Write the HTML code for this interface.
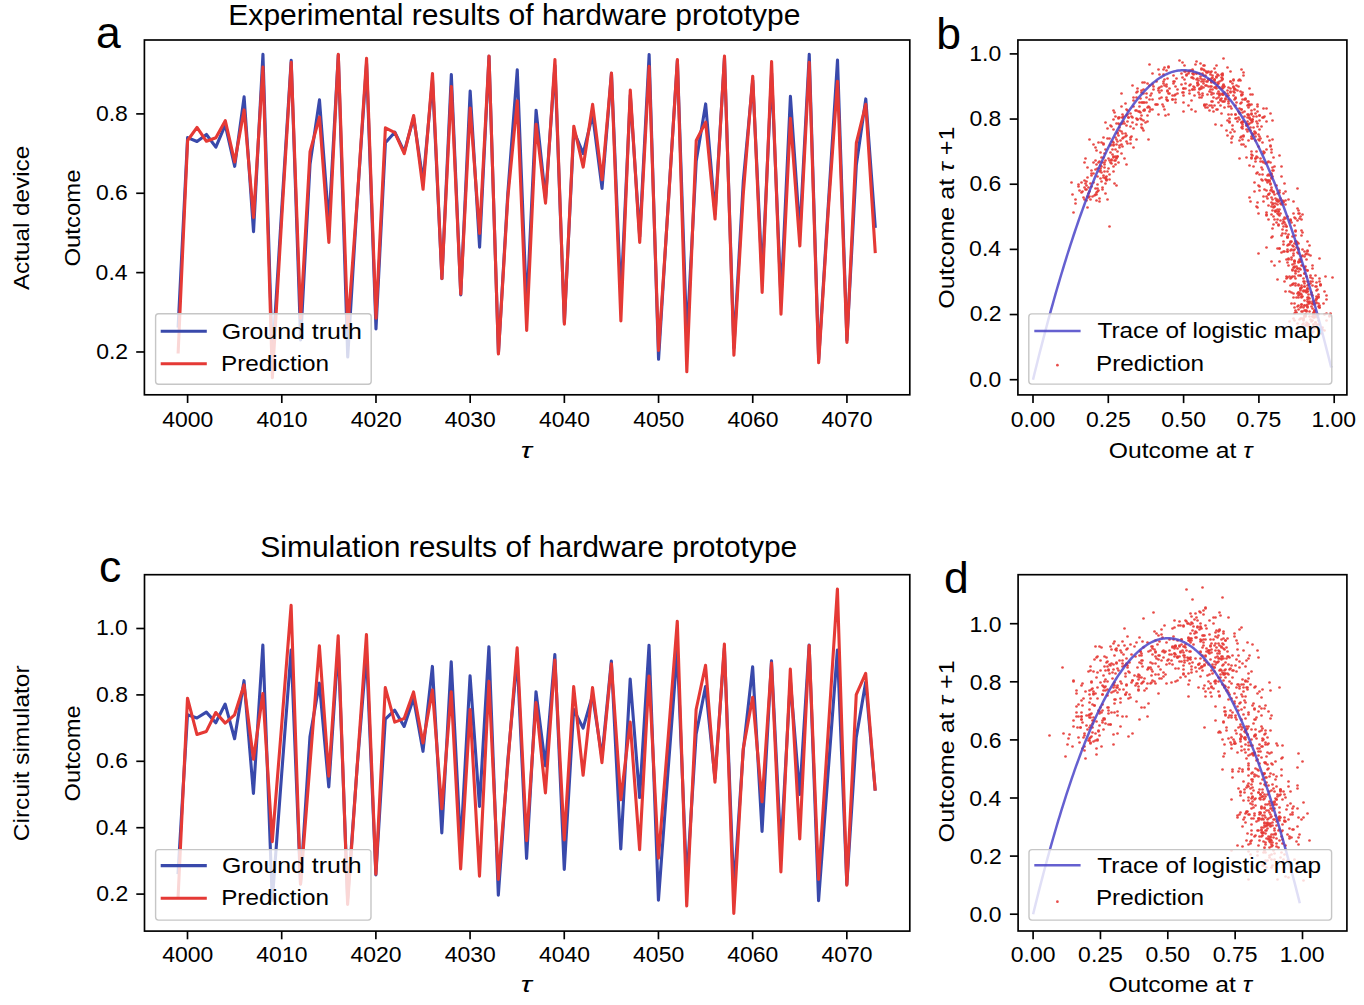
<!DOCTYPE html>
<html><head><meta charset="utf-8"><style>
html,body{margin:0;padding:0;background:#fff;}
body{width:1364px;height:1005px;overflow:hidden;font-family:"Liberation Sans", sans-serif;}
svg{display:block;}
</style></head><body>
<svg width="1364" height="1005" viewBox="0 0 1364 1005" font-family='"Liberation Sans", sans-serif'>
<rect width="1364" height="1005" fill="#fff"/>
<defs><filter id="soft" x="-5%" y="-5%" width="110%" height="110%"><feGaussianBlur stdDeviation="0.4"/></filter></defs>
<clipPath id="ca"><rect x="144.4" y="40.0" width="765.4" height="354.8"/></clipPath>
<clipPath id="cb"><rect x="1017.9" y="40.0" width="329.0000000000001" height="354.9"/></clipPath>
<clipPath id="cc"><rect x="144.5" y="574.7" width="765.3" height="356.4"/></clipPath>
<clipPath id="cd"><rect x="1018.1" y="574.7" width="328.80000000000007" height="356.29999999999995"/></clipPath>
<g clip-path="url(#ca)">
<polyline points="178.18,326.15 187.60,137.58 197.02,141.47 206.44,134.51 215.86,147.17 225.28,124.83 234.69,166.30 244.11,96.91 253.53,231.60 262.95,54.40 272.37,359.66 281.79,208.16 291.21,60.26 300.63,339.93 310.05,164.01 319.47,99.88 328.88,223.93 338.30,55.16 347.72,357.06 357.14,201.92 366.56,63.59 375.98,329.02 385.40,142.79 394.82,132.20 404.24,151.56 413.66,117.80 423.08,181.35 432.49,79.87 441.91,278.75 451.33,74.48 460.75,294.84 470.17,91.08 479.59,247.11 489.01,56.30 498.43,353.17 507.85,192.82 517.26,69.79 526.68,309.28 536.10,110.19 545.52,198.68 554.94,65.62 564.36,322.48 573.78,131.15 583.20,153.60 592.62,114.66 602.04,188.35 611.46,73.42 620.87,298.07 630.29,95.00 639.71,236.60 649.13,54.51 658.55,359.28 667.97,207.24 677.39,60.71 686.81,338.46 696.23,161.02 705.65,103.92 715.06,213.79 724.48,57.89 733.90,347.83 743.32,180.78 752.74,80.44 762.16,277.11 771.58,73.06 781.00,299.17 790.42,96.39 799.84,232.94 809.25,54.37 818.67,359.75 828.09,208.39 837.51,60.15 846.93,340.29 856.35,164.74 865.77,98.92 875.19,226.39" fill="none" stroke="#3949AB" stroke-width="3.1" stroke-linejoin="round" stroke-linecap="square"/>
<polyline points="178.18,351.98 187.60,140.49 197.02,127.39 206.44,141.28 215.86,137.71 225.28,120.65 234.69,161.91 244.11,109.93 253.53,217.46 262.95,67.08 272.37,377.77 281.79,217.07 291.21,62.32 300.63,318.25 310.05,151.60 319.47,117.07 328.88,242.46 338.30,54.38 347.72,328.17 357.14,201.20 366.56,58.35 375.98,318.25 385.40,127.79 394.82,132.55 404.24,153.58 413.66,115.49 423.08,189.29 432.49,73.43 441.91,278.57 451.33,86.52 460.75,294.05 470.17,107.95 479.59,233.34 489.01,55.97 498.43,353.96 507.85,197.23 517.26,100.81 526.68,330.55 536.10,124.22 545.52,203.18 554.94,59.54 564.36,324.20 573.78,126.20 583.20,167.07 592.62,104.38 602.04,179.77 611.46,73.03 620.87,321.03 630.29,90.09 639.71,242.46 649.13,66.28 658.55,350.39 667.97,209.13 677.39,59.54 686.81,371.82 696.23,140.49 705.65,122.23 715.06,219.05 724.48,55.97 733.90,355.15 743.32,193.26 752.74,76.20 762.16,292.46 771.58,61.52 781.00,314.28 790.42,118.26 799.84,246.03 809.25,62.32 818.67,362.69 828.09,213.10 837.51,81.36 846.93,342.46 856.35,142.87 865.77,104.38 875.19,251.59" fill="none" stroke="#E53935" stroke-width="3.1" stroke-linejoin="round" stroke-linecap="square"/>
</g>
<g clip-path="url(#cc)">
<polyline points="178.08,872.49 187.50,714.71 196.92,717.97 206.34,712.14 215.76,722.74 225.18,704.05 234.59,738.74 244.01,680.68 253.43,793.38 262.85,645.11 272.27,900.52 281.69,773.76 291.11,650.02 300.53,884.02 309.95,736.83 319.37,683.17 328.78,786.96 338.20,645.75 347.62,898.35 357.04,768.55 366.46,652.81 375.88,874.89 385.30,719.08 394.72,710.21 404.14,726.41 413.56,698.16 422.98,751.33 432.39,666.43 441.81,832.83 451.23,661.92 460.65,846.29 470.07,675.80 479.49,806.36 488.91,646.71 498.33,895.10 507.75,760.93 517.16,658.00 526.58,858.37 536.00,691.80 545.42,765.83 554.84,654.51 564.26,869.41 573.68,709.34 583.10,728.12 592.52,695.54 601.94,757.19 611.36,661.03 620.77,848.99 630.19,679.09 639.61,797.56 649.03,645.21 658.45,900.21 667.87,772.99 677.29,650.39 686.71,882.79 696.13,734.32 705.55,686.55 714.96,778.48 724.38,648.04 733.80,890.62 743.22,750.86 752.64,666.90 762.06,831.45 771.48,660.73 780.90,849.92 790.32,680.25 799.74,794.50 809.15,645.09 818.57,900.60 827.99,773.96 837.41,649.93 846.83,884.32 856.25,737.44 865.67,682.37 875.09,789.02" fill="none" stroke="#3949AB" stroke-width="3.1" stroke-linejoin="round" stroke-linecap="square"/>
<polyline points="178.08,897.42 187.50,698.22 196.92,734.41 206.34,731.42 215.76,712.50 225.18,723.12 234.59,714.82 244.01,684.94 253.43,759.31 262.85,693.57 272.27,841.64 281.69,724.78 291.11,605.26 300.53,884.14 309.95,764.62 319.37,645.76 328.78,776.24 338.20,635.80 347.62,904.39 357.04,767.94 366.46,634.48 375.88,874.18 385.30,687.60 394.72,722.12 404.14,718.47 413.56,691.91 422.98,743.04 432.39,689.92 441.81,808.78 451.23,691.91 460.65,868.87 470.07,709.51 479.49,876.17 488.91,681.29 498.33,879.49 507.75,764.62 517.16,647.76 526.58,840.65 536.00,702.54 545.42,792.84 554.84,660.04 564.26,839.98 573.68,686.60 583.10,775.24 592.52,687.60 601.94,762.63 611.36,663.69 620.77,799.81 630.19,722.12 639.61,849.61 649.03,675.98 658.45,858.24 667.87,741.38 677.29,621.20 686.71,906.05 696.13,709.51 705.55,665.35 714.96,782.22 724.38,644.10 733.80,913.36 743.22,748.68 752.64,697.22 762.06,801.80 771.48,663.03 780.90,871.86 790.32,669.00 799.74,838.99 809.15,645.43 818.57,879.49 827.99,734.74 837.41,588.99 846.83,885.14 856.25,694.57 865.67,673.32 875.09,789.19" fill="none" stroke="#E53935" stroke-width="3.1" stroke-linejoin="round" stroke-linecap="square"/>
</g>
<g clip-path="url(#cb)"><g fill="#E53935" fill-opacity="0.9" filter="url(#soft)">
<circle cx="1166.5" cy="84.5" r="1.35"/>
<circle cx="1299.5" cy="319.5" r="1.35"/>
<circle cx="1092.5" cy="196.5" r="1.35"/>
<circle cx="1223.5" cy="85.5" r="1.35"/>
<circle cx="1310.5" cy="275.5" r="1.35"/>
<circle cx="1140.5" cy="112.5" r="1.35"/>
<circle cx="1283.5" cy="244.5" r="1.35"/>
<circle cx="1168.5" cy="93.5" r="1.35"/>
<circle cx="1318.5" cy="320.5" r="1.35"/>
<circle cx="1106.5" cy="179.5" r="1.35"/>
<circle cx="1217.5" cy="74.5" r="1.35"/>
<circle cx="1292.5" cy="284.5" r="1.35"/>
<circle cx="1116.5" cy="123.5" r="1.35"/>
<circle cx="1288.5" cy="199.5" r="1.35"/>
<circle cx="1219.5" cy="87.5" r="1.35"/>
<circle cx="1285.5" cy="291.5" r="1.35"/>
<circle cx="1133.5" cy="106.5" r="1.35"/>
<circle cx="1273.5" cy="216.5" r="1.35"/>
<circle cx="1184.5" cy="65.5" r="1.35"/>
<circle cx="1308.5" cy="326.5" r="1.35"/>
<circle cx="1081.5" cy="192.5" r="1.35"/>
<circle cx="1211.5" cy="94.5" r="1.35"/>
<circle cx="1307.5" cy="299.5" r="1.35"/>
<circle cx="1101.5" cy="157.5" r="1.35"/>
<circle cx="1247.5" cy="105.5" r="1.35"/>
<circle cx="1282.5" cy="201.5" r="1.35"/>
<circle cx="1200.5" cy="78.5" r="1.35"/>
<circle cx="1300.5" cy="288.5" r="1.35"/>
<circle cx="1118.5" cy="117.5" r="1.35"/>
<circle cx="1274.5" cy="206.5" r="1.35"/>
<circle cx="1199.5" cy="89.5" r="1.35"/>
<circle cx="1305.5" cy="290.5" r="1.35"/>
<circle cx="1117.5" cy="133.5" r="1.35"/>
<circle cx="1259.5" cy="174.5" r="1.35"/>
<circle cx="1232.5" cy="125.5" r="1.35"/>
<circle cx="1273.5" cy="203.5" r="1.35"/>
<circle cx="1198.5" cy="84.5" r="1.35"/>
<circle cx="1294.5" cy="320.5" r="1.35"/>
<circle cx="1113.5" cy="166.5" r="1.35"/>
<circle cx="1242.5" cy="139.5" r="1.35"/>
<circle cx="1271.5" cy="149.5" r="1.35"/>
<circle cx="1251.5" cy="113.5" r="1.35"/>
<circle cx="1254.5" cy="182.5" r="1.35"/>
<circle cx="1222.5" cy="74.5" r="1.35"/>
<circle cx="1289.5" cy="244.5" r="1.35"/>
<circle cx="1141.5" cy="124.5" r="1.35"/>
<circle cx="1290.5" cy="241.5" r="1.35"/>
<circle cx="1152.5" cy="73.5" r="1.35"/>
<circle cx="1308.5" cy="324.5" r="1.35"/>
<circle cx="1095.5" cy="188.5" r="1.35"/>
<circle cx="1234.5" cy="89.5" r="1.35"/>
<circle cx="1283.5" cy="241.5" r="1.35"/>
<circle cx="1164.5" cy="79.5" r="1.35"/>
<circle cx="1294.5" cy="307.5" r="1.35"/>
<circle cx="1119.5" cy="145.5" r="1.35"/>
<circle cx="1261.5" cy="179.5" r="1.35"/>
<circle cx="1242.5" cy="99.5" r="1.35"/>
<circle cx="1296.5" cy="241.5" r="1.35"/>
<circle cx="1189.5" cy="85.5" r="1.35"/>
<circle cx="1315.5" cy="286.5" r="1.35"/>
<circle cx="1110.5" cy="162.5" r="1.35"/>
<circle cx="1244.5" cy="99.5" r="1.35"/>
<circle cx="1277.5" cy="219.5" r="1.35"/>
<circle cx="1192.5" cy="70.5" r="1.35"/>
<circle cx="1324.5" cy="330.5" r="1.35"/>
<circle cx="1086.5" cy="185.5" r="1.35"/>
<circle cx="1211.5" cy="92.5" r="1.35"/>
<circle cx="1306.5" cy="311.5" r="1.35"/>
<circle cx="1119.5" cy="130.5" r="1.35"/>
<circle cx="1252.5" cy="133.5" r="1.35"/>
<circle cx="1252.5" cy="119.5" r="1.35"/>
<circle cx="1259.5" cy="140.5" r="1.35"/>
<circle cx="1251.5" cy="120.5" r="1.35"/>
<circle cx="1255.5" cy="158.5" r="1.35"/>
<circle cx="1248.5" cy="101.5" r="1.35"/>
<circle cx="1266.5" cy="212.5" r="1.35"/>
<circle cx="1195.5" cy="64.5" r="1.35"/>
<circle cx="1296.5" cy="312.5" r="1.35"/>
<circle cx="1115.5" cy="137.5" r="1.35"/>
<circle cx="1239.5" cy="113.5" r="1.35"/>
<circle cx="1266.5" cy="190.5" r="1.35"/>
<circle cx="1203.5" cy="83.5" r="1.35"/>
<circle cx="1307.5" cy="281.5" r="1.35"/>
<circle cx="1114.5" cy="112.5" r="1.35"/>
<circle cx="1259.5" cy="186.5" r="1.35"/>
<circle cx="1228.5" cy="99.5" r="1.35"/>
<circle cx="1286.5" cy="259.5" r="1.35"/>
<circle cx="1146.5" cy="93.5" r="1.35"/>
<circle cx="1298.5" cy="292.5" r="1.35"/>
<circle cx="1141.5" cy="92.5" r="1.35"/>
<circle cx="1294.5" cy="243.5" r="1.35"/>
<circle cx="1168.5" cy="114.5" r="1.35"/>
<circle cx="1298.5" cy="285.5" r="1.35"/>
<circle cx="1115.5" cy="116.5" r="1.35"/>
<circle cx="1258.5" cy="213.5" r="1.35"/>
<circle cx="1212.5" cy="89.5" r="1.35"/>
<circle cx="1300.5" cy="288.5" r="1.35"/>
<circle cx="1127.5" cy="121.5" r="1.35"/>
<circle cx="1268.5" cy="180.5" r="1.35"/>
<circle cx="1215.5" cy="87.5" r="1.35"/>
<circle cx="1292.5" cy="269.5" r="1.35"/>
<circle cx="1136.5" cy="97.5" r="1.35"/>
<circle cx="1292.5" cy="236.5" r="1.35"/>
<circle cx="1166.5" cy="86.5" r="1.35"/>
<circle cx="1311.5" cy="294.5" r="1.35"/>
<circle cx="1116.5" cy="185.5" r="1.35"/>
<circle cx="1233.5" cy="91.5" r="1.35"/>
<circle cx="1277.5" cy="248.5" r="1.35"/>
<circle cx="1183.5" cy="92.5" r="1.35"/>
<circle cx="1312.5" cy="303.5" r="1.35"/>
<circle cx="1093.5" cy="162.5" r="1.35"/>
<circle cx="1243.5" cy="72.5" r="1.35"/>
<circle cx="1284.5" cy="217.5" r="1.35"/>
<circle cx="1182.5" cy="77.5" r="1.35"/>
<circle cx="1307.5" cy="301.5" r="1.35"/>
<circle cx="1078.5" cy="184.5" r="1.35"/>
<circle cx="1204.5" cy="104.5" r="1.35"/>
<circle cx="1318.5" cy="303.5" r="1.35"/>
<circle cx="1100.5" cy="152.5" r="1.35"/>
<circle cx="1241.5" cy="109.5" r="1.35"/>
<circle cx="1298.5" cy="213.5" r="1.35"/>
<circle cx="1185.5" cy="88.5" r="1.35"/>
<circle cx="1314.5" cy="310.5" r="1.35"/>
<circle cx="1090.5" cy="199.5" r="1.35"/>
<circle cx="1207.5" cy="107.5" r="1.35"/>
<circle cx="1292.5" cy="284.5" r="1.35"/>
<circle cx="1131.5" cy="116.5" r="1.35"/>
<circle cx="1285.5" cy="200.5" r="1.35"/>
<circle cx="1193.5" cy="86.5" r="1.35"/>
<circle cx="1311.5" cy="321.5" r="1.35"/>
<circle cx="1100.5" cy="168.5" r="1.35"/>
<circle cx="1222.5" cy="86.5" r="1.35"/>
<circle cx="1307.5" cy="250.5" r="1.35"/>
<circle cx="1144.5" cy="110.5" r="1.35"/>
<circle cx="1294.5" cy="261.5" r="1.35"/>
<circle cx="1189.5" cy="93.5" r="1.35"/>
<circle cx="1316.5" cy="324.5" r="1.35"/>
<circle cx="1095.5" cy="194.5" r="1.35"/>
<circle cx="1226.5" cy="96.5" r="1.35"/>
<circle cx="1291.5" cy="277.5" r="1.35"/>
<circle cx="1138.5" cy="111.5" r="1.35"/>
<circle cx="1298.5" cy="249.5" r="1.35"/>
<circle cx="1174.5" cy="81.5" r="1.35"/>
<circle cx="1323.5" cy="303.5" r="1.35"/>
<circle cx="1100.5" cy="165.5" r="1.35"/>
<circle cx="1217.5" cy="93.5" r="1.35"/>
<circle cx="1306.5" cy="259.5" r="1.35"/>
<circle cx="1183.5" cy="102.5" r="1.35"/>
<circle cx="1302.5" cy="324.5" r="1.35"/>
<circle cx="1105.5" cy="178.5" r="1.35"/>
<circle cx="1218.5" cy="102.5" r="1.35"/>
<circle cx="1284.5" cy="281.5" r="1.35"/>
<circle cx="1130.5" cy="113.5" r="1.35"/>
<circle cx="1279.5" cy="200.5" r="1.35"/>
<circle cx="1204.5" cy="79.5" r="1.35"/>
<circle cx="1305.5" cy="325.5" r="1.35"/>
<circle cx="1086.5" cy="181.5" r="1.35"/>
<circle cx="1203.5" cy="81.5" r="1.35"/>
<circle cx="1304.5" cy="305.5" r="1.35"/>
<circle cx="1098.5" cy="142.5" r="1.35"/>
<circle cx="1246.5" cy="125.5" r="1.35"/>
<circle cx="1283.5" cy="193.5" r="1.35"/>
<circle cx="1224.5" cy="86.5" r="1.35"/>
<circle cx="1292.5" cy="264.5" r="1.35"/>
<circle cx="1126.5" cy="125.5" r="1.35"/>
<circle cx="1287.5" cy="245.5" r="1.35"/>
<circle cx="1175.5" cy="86.5" r="1.35"/>
<circle cx="1307.5" cy="323.5" r="1.35"/>
<circle cx="1072.5" cy="194.5" r="1.35"/>
<circle cx="1222.5" cy="88.5" r="1.35"/>
<circle cx="1316.5" cy="299.5" r="1.35"/>
<circle cx="1096.5" cy="150.5" r="1.35"/>
<circle cx="1249.5" cy="105.5" r="1.35"/>
<circle cx="1290.5" cy="220.5" r="1.35"/>
<circle cx="1184.5" cy="71.5" r="1.35"/>
<circle cx="1303.5" cy="319.5" r="1.35"/>
<circle cx="1103.5" cy="157.5" r="1.35"/>
<circle cx="1249.5" cy="104.5" r="1.35"/>
<circle cx="1272.5" cy="204.5" r="1.35"/>
<circle cx="1215.5" cy="72.5" r="1.35"/>
<circle cx="1301.5" cy="256.5" r="1.35"/>
<circle cx="1149.5" cy="99.5" r="1.35"/>
<circle cx="1302.5" cy="214.5" r="1.35"/>
<circle cx="1189.5" cy="71.5" r="1.35"/>
<circle cx="1303.5" cy="323.5" r="1.35"/>
<circle cx="1114.5" cy="183.5" r="1.35"/>
<circle cx="1202.5" cy="79.5" r="1.35"/>
<circle cx="1300.5" cy="290.5" r="1.35"/>
<circle cx="1118.5" cy="135.5" r="1.35"/>
<circle cx="1267.5" cy="162.5" r="1.35"/>
<circle cx="1250.5" cy="130.5" r="1.35"/>
<circle cx="1281.5" cy="203.5" r="1.35"/>
<circle cx="1198.5" cy="80.5" r="1.35"/>
<circle cx="1312.5" cy="278.5" r="1.35"/>
<circle cx="1110.5" cy="145.5" r="1.35"/>
<circle cx="1262.5" cy="117.5" r="1.35"/>
<circle cx="1271.5" cy="178.5" r="1.35"/>
<circle cx="1211.5" cy="82.5" r="1.35"/>
<circle cx="1287.5" cy="262.5" r="1.35"/>
<circle cx="1162.5" cy="104.5" r="1.35"/>
<circle cx="1293.5" cy="283.5" r="1.35"/>
<circle cx="1125.5" cy="103.5" r="1.35"/>
<circle cx="1288.5" cy="234.5" r="1.35"/>
<circle cx="1158.5" cy="114.5" r="1.35"/>
<circle cx="1315.5" cy="300.5" r="1.35"/>
<circle cx="1111.5" cy="126.5" r="1.35"/>
<circle cx="1272.5" cy="167.5" r="1.35"/>
<circle cx="1241.5" cy="94.5" r="1.35"/>
<circle cx="1279.5" cy="248.5" r="1.35"/>
<circle cx="1183.5" cy="88.5" r="1.35"/>
<circle cx="1329.5" cy="315.5" r="1.35"/>
<circle cx="1102.5" cy="189.5" r="1.35"/>
<circle cx="1211.5" cy="81.5" r="1.35"/>
<circle cx="1312.5" cy="316.5" r="1.35"/>
<circle cx="1113.5" cy="156.5" r="1.35"/>
<circle cx="1235.5" cy="114.5" r="1.35"/>
<circle cx="1282.5" cy="233.5" r="1.35"/>
<circle cx="1183.5" cy="95.5" r="1.35"/>
<circle cx="1312.5" cy="303.5" r="1.35"/>
<circle cx="1088.5" cy="197.5" r="1.35"/>
<circle cx="1232.5" cy="83.5" r="1.35"/>
<circle cx="1306.5" cy="325.5" r="1.35"/>
<circle cx="1120.5" cy="140.5" r="1.35"/>
<circle cx="1259.5" cy="115.5" r="1.35"/>
<circle cx="1267.5" cy="198.5" r="1.35"/>
<circle cx="1239.5" cy="112.5" r="1.35"/>
<circle cx="1272.5" cy="228.5" r="1.35"/>
<circle cx="1166.5" cy="99.5" r="1.35"/>
<circle cx="1316.5" cy="282.5" r="1.35"/>
<circle cx="1084.5" cy="162.5" r="1.35"/>
<circle cx="1231.5" cy="138.5" r="1.35"/>
<circle cx="1285.5" cy="191.5" r="1.35"/>
<circle cx="1208.5" cy="79.5" r="1.35"/>
<circle cx="1295.5" cy="285.5" r="1.35"/>
<circle cx="1113.5" cy="145.5" r="1.35"/>
<circle cx="1256.5" cy="156.5" r="1.35"/>
<circle cx="1251.5" cy="104.5" r="1.35"/>
<circle cx="1277.5" cy="204.5" r="1.35"/>
<circle cx="1216.5" cy="109.5" r="1.35"/>
<circle cx="1294.5" cy="263.5" r="1.35"/>
<circle cx="1137.5" cy="119.5" r="1.35"/>
<circle cx="1299.5" cy="218.5" r="1.35"/>
<circle cx="1183.5" cy="88.5" r="1.35"/>
<circle cx="1318.5" cy="324.5" r="1.35"/>
<circle cx="1087.5" cy="196.5" r="1.35"/>
<circle cx="1195.5" cy="111.5" r="1.35"/>
<circle cx="1301.5" cy="287.5" r="1.35"/>
<circle cx="1114.5" cy="160.5" r="1.35"/>
<circle cx="1247.5" cy="121.5" r="1.35"/>
<circle cx="1262.5" cy="169.5" r="1.35"/>
<circle cx="1210.5" cy="89.5" r="1.35"/>
<circle cx="1296.5" cy="247.5" r="1.35"/>
<circle cx="1151.5" cy="93.5" r="1.35"/>
<circle cx="1298.5" cy="271.5" r="1.35"/>
<circle cx="1128.5" cy="117.5" r="1.35"/>
<circle cx="1282.5" cy="200.5" r="1.35"/>
<circle cx="1203.5" cy="87.5" r="1.35"/>
<circle cx="1319.5" cy="305.5" r="1.35"/>
<circle cx="1106.5" cy="180.5" r="1.35"/>
<circle cx="1239.5" cy="79.5" r="1.35"/>
<circle cx="1300.5" cy="275.5" r="1.35"/>
<circle cx="1158.5" cy="88.5" r="1.35"/>
<circle cx="1306.5" cy="292.5" r="1.35"/>
<circle cx="1117.5" cy="141.5" r="1.35"/>
<circle cx="1251.5" cy="136.5" r="1.35"/>
<circle cx="1261.5" cy="126.5" r="1.35"/>
<circle cx="1263.5" cy="108.5" r="1.35"/>
<circle cx="1252.5" cy="155.5" r="1.35"/>
<circle cx="1231.5" cy="142.5" r="1.35"/>
<circle cx="1279.5" cy="192.5" r="1.35"/>
<circle cx="1228.5" cy="103.5" r="1.35"/>
<circle cx="1298.5" cy="248.5" r="1.35"/>
<circle cx="1153.5" cy="89.5" r="1.35"/>
<circle cx="1324.5" cy="291.5" r="1.35"/>
<circle cx="1111.5" cy="163.5" r="1.35"/>
<circle cx="1239.5" cy="108.5" r="1.35"/>
<circle cx="1274.5" cy="206.5" r="1.35"/>
<circle cx="1207.5" cy="94.5" r="1.35"/>
<circle cx="1306.5" cy="305.5" r="1.35"/>
<circle cx="1105.5" cy="122.5" r="1.35"/>
<circle cx="1235.5" cy="118.5" r="1.35"/>
<circle cx="1283.5" cy="201.5" r="1.35"/>
<circle cx="1221.5" cy="113.5" r="1.35"/>
<circle cx="1298.5" cy="253.5" r="1.35"/>
<circle cx="1147.5" cy="107.5" r="1.35"/>
<circle cx="1274.5" cy="265.5" r="1.35"/>
<circle cx="1158.5" cy="69.5" r="1.35"/>
<circle cx="1298.5" cy="262.5" r="1.35"/>
<circle cx="1130.5" cy="137.5" r="1.35"/>
<circle cx="1282.5" cy="223.5" r="1.35"/>
<circle cx="1185.5" cy="71.5" r="1.35"/>
<circle cx="1319.5" cy="307.5" r="1.35"/>
<circle cx="1084.5" cy="199.5" r="1.35"/>
<circle cx="1204.5" cy="65.5" r="1.35"/>
<circle cx="1297.5" cy="268.5" r="1.35"/>
<circle cx="1122.5" cy="146.5" r="1.35"/>
<circle cx="1273.5" cy="192.5" r="1.35"/>
<circle cx="1228.5" cy="114.5" r="1.35"/>
<circle cx="1273.5" cy="224.5" r="1.35"/>
<circle cx="1190.5" cy="70.5" r="1.35"/>
<circle cx="1303.5" cy="318.5" r="1.35"/>
<circle cx="1099.5" cy="201.5" r="1.35"/>
<circle cx="1205.5" cy="85.5" r="1.35"/>
<circle cx="1302.5" cy="296.5" r="1.35"/>
<circle cx="1100.5" cy="170.5" r="1.35"/>
<circle cx="1247.5" cy="131.5" r="1.35"/>
<circle cx="1283.5" cy="202.5" r="1.35"/>
<circle cx="1211.5" cy="71.5" r="1.35"/>
<circle cx="1312.5" cy="285.5" r="1.35"/>
<circle cx="1142.5" cy="128.5" r="1.35"/>
<circle cx="1268.5" cy="194.5" r="1.35"/>
<circle cx="1214.5" cy="80.5" r="1.35"/>
<circle cx="1286.5" cy="278.5" r="1.35"/>
<circle cx="1140.5" cy="98.5" r="1.35"/>
<circle cx="1295.5" cy="283.5" r="1.35"/>
<circle cx="1128.5" cy="117.5" r="1.35"/>
<circle cx="1272.5" cy="236.5" r="1.35"/>
<circle cx="1192.5" cy="73.5" r="1.35"/>
<circle cx="1289.5" cy="321.5" r="1.35"/>
<circle cx="1075.5" cy="203.5" r="1.35"/>
<circle cx="1222.5" cy="78.5" r="1.35"/>
<circle cx="1318.5" cy="306.5" r="1.35"/>
<circle cx="1108.5" cy="168.5" r="1.35"/>
<circle cx="1241.5" cy="109.5" r="1.35"/>
<circle cx="1298.5" cy="210.5" r="1.35"/>
<circle cx="1199.5" cy="94.5" r="1.35"/>
<circle cx="1312.5" cy="320.5" r="1.35"/>
<circle cx="1079.5" cy="190.5" r="1.35"/>
<circle cx="1211.5" cy="81.5" r="1.35"/>
<circle cx="1298.5" cy="292.5" r="1.35"/>
<circle cx="1113.5" cy="110.5" r="1.35"/>
<circle cx="1259.5" cy="190.5" r="1.35"/>
<circle cx="1234.5" cy="92.5" r="1.35"/>
<circle cx="1282.5" cy="229.5" r="1.35"/>
<circle cx="1192.5" cy="69.5" r="1.35"/>
<circle cx="1301.5" cy="339.5" r="1.35"/>
<circle cx="1085.5" cy="183.5" r="1.35"/>
<circle cx="1220.5" cy="100.5" r="1.35"/>
<circle cx="1309.5" cy="298.5" r="1.35"/>
<circle cx="1113.5" cy="157.5" r="1.35"/>
<circle cx="1247.5" cy="101.5" r="1.35"/>
<circle cx="1295.5" cy="230.5" r="1.35"/>
<circle cx="1198.5" cy="92.5" r="1.35"/>
<circle cx="1300.5" cy="318.5" r="1.35"/>
<circle cx="1086.5" cy="200.5" r="1.35"/>
<circle cx="1205.5" cy="107.5" r="1.35"/>
<circle cx="1293.5" cy="318.5" r="1.35"/>
<circle cx="1107.5" cy="138.5" r="1.35"/>
<circle cx="1241.5" cy="122.5" r="1.35"/>
<circle cx="1245.5" cy="146.5" r="1.35"/>
<circle cx="1247.5" cy="117.5" r="1.35"/>
<circle cx="1270.5" cy="184.5" r="1.35"/>
<circle cx="1217.5" cy="84.5" r="1.35"/>
<circle cx="1288.5" cy="259.5" r="1.35"/>
<circle cx="1144.5" cy="109.5" r="1.35"/>
<circle cx="1294.5" cy="276.5" r="1.35"/>
<circle cx="1140.5" cy="118.5" r="1.35"/>
<circle cx="1293.5" cy="250.5" r="1.35"/>
<circle cx="1155.5" cy="104.5" r="1.35"/>
<circle cx="1308.5" cy="294.5" r="1.35"/>
<circle cx="1122.5" cy="123.5" r="1.35"/>
<circle cx="1265.5" cy="163.5" r="1.35"/>
<circle cx="1235.5" cy="98.5" r="1.35"/>
<circle cx="1271.5" cy="189.5" r="1.35"/>
<circle cx="1211.5" cy="105.5" r="1.35"/>
<circle cx="1305.5" cy="315.5" r="1.35"/>
<circle cx="1110.5" cy="144.5" r="1.35"/>
<circle cx="1227.5" cy="135.5" r="1.35"/>
<circle cx="1239.5" cy="158.5" r="1.35"/>
<circle cx="1241.5" cy="95.5" r="1.35"/>
<circle cx="1284.5" cy="222.5" r="1.35"/>
<circle cx="1210.5" cy="74.5" r="1.35"/>
<circle cx="1318.5" cy="294.5" r="1.35"/>
<circle cx="1095.5" cy="169.5" r="1.35"/>
<circle cx="1218.5" cy="97.5" r="1.35"/>
<circle cx="1287.5" cy="277.5" r="1.35"/>
<circle cx="1143.5" cy="120.5" r="1.35"/>
<circle cx="1279.5" cy="209.5" r="1.35"/>
<circle cx="1190.5" cy="84.5" r="1.35"/>
<circle cx="1314.5" cy="328.5" r="1.35"/>
<circle cx="1089.5" cy="196.5" r="1.35"/>
<circle cx="1211.5" cy="78.5" r="1.35"/>
<circle cx="1304.5" cy="310.5" r="1.35"/>
<circle cx="1099.5" cy="161.5" r="1.35"/>
<circle cx="1228.5" cy="101.5" r="1.35"/>
<circle cx="1280.5" cy="213.5" r="1.35"/>
<circle cx="1206.5" cy="71.5" r="1.35"/>
<circle cx="1309.5" cy="316.5" r="1.35"/>
<circle cx="1099.5" cy="198.5" r="1.35"/>
<circle cx="1214.5" cy="79.5" r="1.35"/>
<circle cx="1314.5" cy="310.5" r="1.35"/>
<circle cx="1116.5" cy="139.5" r="1.35"/>
<circle cx="1238.5" cy="117.5" r="1.35"/>
<circle cx="1272.5" cy="176.5" r="1.35"/>
<circle cx="1243.5" cy="121.5" r="1.35"/>
<circle cx="1285.5" cy="218.5" r="1.35"/>
<circle cx="1166.5" cy="70.5" r="1.35"/>
<circle cx="1303.5" cy="291.5" r="1.35"/>
<circle cx="1105.5" cy="160.5" r="1.35"/>
<circle cx="1227.5" cy="93.5" r="1.35"/>
<circle cx="1297.5" cy="188.5" r="1.35"/>
<circle cx="1189.5" cy="90.5" r="1.35"/>
<circle cx="1298.5" cy="309.5" r="1.35"/>
<circle cx="1105.5" cy="183.5" r="1.35"/>
<circle cx="1217.5" cy="82.5" r="1.35"/>
<circle cx="1311.5" cy="292.5" r="1.35"/>
<circle cx="1117.5" cy="156.5" r="1.35"/>
<circle cx="1250.5" cy="127.5" r="1.35"/>
<circle cx="1255.5" cy="158.5" r="1.35"/>
<circle cx="1257.5" cy="106.5" r="1.35"/>
<circle cx="1271.5" cy="152.5" r="1.35"/>
<circle cx="1248.5" cy="114.5" r="1.35"/>
<circle cx="1281.5" cy="235.5" r="1.35"/>
<circle cx="1197.5" cy="82.5" r="1.35"/>
<circle cx="1308.5" cy="302.5" r="1.35"/>
<circle cx="1109.5" cy="179.5" r="1.35"/>
<circle cx="1243.5" cy="75.5" r="1.35"/>
<circle cx="1287.5" cy="237.5" r="1.35"/>
<circle cx="1167.5" cy="90.5" r="1.35"/>
<circle cx="1322.5" cy="327.5" r="1.35"/>
<circle cx="1103.5" cy="175.5" r="1.35"/>
<circle cx="1230.5" cy="91.5" r="1.35"/>
<circle cx="1284.5" cy="251.5" r="1.35"/>
<circle cx="1149.5" cy="85.5" r="1.35"/>
<circle cx="1295.5" cy="273.5" r="1.35"/>
<circle cx="1139.5" cy="106.5" r="1.35"/>
<circle cx="1271.5" cy="214.5" r="1.35"/>
<circle cx="1193.5" cy="74.5" r="1.35"/>
<circle cx="1315.5" cy="322.5" r="1.35"/>
<circle cx="1091.5" cy="186.5" r="1.35"/>
<circle cx="1194.5" cy="89.5" r="1.35"/>
<circle cx="1308.5" cy="297.5" r="1.35"/>
<circle cx="1117.5" cy="156.5" r="1.35"/>
<circle cx="1227.5" cy="120.5" r="1.35"/>
<circle cx="1280.5" cy="198.5" r="1.35"/>
<circle cx="1214.5" cy="82.5" r="1.35"/>
<circle cx="1300.5" cy="288.5" r="1.35"/>
<circle cx="1118.5" cy="162.5" r="1.35"/>
<circle cx="1249.5" cy="117.5" r="1.35"/>
<circle cx="1272.5" cy="139.5" r="1.35"/>
<circle cx="1249.5" cy="118.5" r="1.35"/>
<circle cx="1274.5" cy="194.5" r="1.35"/>
<circle cx="1238.5" cy="86.5" r="1.35"/>
<circle cx="1307.5" cy="270.5" r="1.35"/>
<circle cx="1152.5" cy="99.5" r="1.35"/>
<circle cx="1279.5" cy="248.5" r="1.35"/>
<circle cx="1166.5" cy="97.5" r="1.35"/>
<circle cx="1318.5" cy="314.5" r="1.35"/>
<circle cx="1104.5" cy="153.5" r="1.35"/>
<circle cx="1222.5" cy="93.5" r="1.35"/>
<circle cx="1304.5" cy="273.5" r="1.35"/>
<circle cx="1139.5" cy="111.5" r="1.35"/>
<circle cx="1299.5" cy="261.5" r="1.35"/>
<circle cx="1137.5" cy="88.5" r="1.35"/>
<circle cx="1299.5" cy="268.5" r="1.35"/>
<circle cx="1146.5" cy="97.5" r="1.35"/>
<circle cx="1293.5" cy="267.5" r="1.35"/>
<circle cx="1142.5" cy="102.5" r="1.35"/>
<circle cx="1307.5" cy="241.5" r="1.35"/>
<circle cx="1159.5" cy="74.5" r="1.35"/>
<circle cx="1304.5" cy="300.5" r="1.35"/>
<circle cx="1109.5" cy="174.5" r="1.35"/>
<circle cx="1227.5" cy="67.5" r="1.35"/>
<circle cx="1305.5" cy="254.5" r="1.35"/>
<circle cx="1175.5" cy="99.5" r="1.35"/>
<circle cx="1312.5" cy="301.5" r="1.35"/>
<circle cx="1097.5" cy="176.5" r="1.35"/>
<circle cx="1235.5" cy="89.5" r="1.35"/>
<circle cx="1305.5" cy="269.5" r="1.35"/>
<circle cx="1144.5" cy="102.5" r="1.35"/>
<circle cx="1291.5" cy="241.5" r="1.35"/>
<circle cx="1161.5" cy="90.5" r="1.35"/>
<circle cx="1303.5" cy="327.5" r="1.35"/>
<circle cx="1105.5" cy="193.5" r="1.35"/>
<circle cx="1222.5" cy="94.5" r="1.35"/>
<circle cx="1307.5" cy="270.5" r="1.35"/>
<circle cx="1132.5" cy="122.5" r="1.35"/>
<circle cx="1269.5" cy="193.5" r="1.35"/>
<circle cx="1218.5" cy="91.5" r="1.35"/>
<circle cx="1295.5" cy="271.5" r="1.35"/>
<circle cx="1130.5" cy="143.5" r="1.35"/>
<circle cx="1268.5" cy="194.5" r="1.35"/>
<circle cx="1212.5" cy="77.5" r="1.35"/>
<circle cx="1307.5" cy="291.5" r="1.35"/>
<circle cx="1122.5" cy="138.5" r="1.35"/>
<circle cx="1279.5" cy="190.5" r="1.35"/>
<circle cx="1222.5" cy="94.5" r="1.35"/>
<circle cx="1304.5" cy="286.5" r="1.35"/>
<circle cx="1147.5" cy="115.5" r="1.35"/>
<circle cx="1271.5" cy="237.5" r="1.35"/>
<circle cx="1173.5" cy="83.5" r="1.35"/>
<circle cx="1318.5" cy="297.5" r="1.35"/>
<circle cx="1096.5" cy="200.5" r="1.35"/>
<circle cx="1222.5" cy="73.5" r="1.35"/>
<circle cx="1315.5" cy="316.5" r="1.35"/>
<circle cx="1111.5" cy="159.5" r="1.35"/>
<circle cx="1230.5" cy="106.5" r="1.35"/>
<circle cx="1287.5" cy="216.5" r="1.35"/>
<circle cx="1205.5" cy="75.5" r="1.35"/>
<circle cx="1301.5" cy="287.5" r="1.35"/>
<circle cx="1087.5" cy="177.5" r="1.35"/>
<circle cx="1221.5" cy="74.5" r="1.35"/>
<circle cx="1299.5" cy="259.5" r="1.35"/>
<circle cx="1121.5" cy="93.5" r="1.35"/>
<circle cx="1297.5" cy="268.5" r="1.35"/>
<circle cx="1150.5" cy="109.5" r="1.35"/>
<circle cx="1296.5" cy="266.5" r="1.35"/>
<circle cx="1149.5" cy="111.5" r="1.35"/>
<circle cx="1300.5" cy="259.5" r="1.35"/>
<circle cx="1143.5" cy="110.5" r="1.35"/>
<circle cx="1304.5" cy="273.5" r="1.35"/>
<circle cx="1135.5" cy="110.5" r="1.35"/>
<circle cx="1278.5" cy="211.5" r="1.35"/>
<circle cx="1182.5" cy="62.5" r="1.35"/>
<circle cx="1326.5" cy="313.5" r="1.35"/>
<circle cx="1075.5" cy="199.5" r="1.35"/>
<circle cx="1191.5" cy="77.5" r="1.35"/>
<circle cx="1293.5" cy="293.5" r="1.35"/>
<circle cx="1124.5" cy="158.5" r="1.35"/>
<circle cx="1241.5" cy="122.5" r="1.35"/>
<circle cx="1274.5" cy="219.5" r="1.35"/>
<circle cx="1208.5" cy="86.5" r="1.35"/>
<circle cx="1294.5" cy="260.5" r="1.35"/>
<circle cx="1110.5" cy="125.5" r="1.35"/>
<circle cx="1278.5" cy="201.5" r="1.35"/>
<circle cx="1211.5" cy="80.5" r="1.35"/>
<circle cx="1289.5" cy="291.5" r="1.35"/>
<circle cx="1103.5" cy="137.5" r="1.35"/>
<circle cx="1246.5" cy="157.5" r="1.35"/>
<circle cx="1258.5" cy="146.5" r="1.35"/>
<circle cx="1252.5" cy="121.5" r="1.35"/>
<circle cx="1274.5" cy="166.5" r="1.35"/>
<circle cx="1249.5" cy="88.5" r="1.35"/>
<circle cx="1291.5" cy="222.5" r="1.35"/>
<circle cx="1207.5" cy="72.5" r="1.35"/>
<circle cx="1301.5" cy="296.5" r="1.35"/>
<circle cx="1086.5" cy="189.5" r="1.35"/>
<circle cx="1223.5" cy="84.5" r="1.35"/>
<circle cx="1307.5" cy="291.5" r="1.35"/>
<circle cx="1121.5" cy="123.5" r="1.35"/>
<circle cx="1250.5" cy="201.5" r="1.35"/>
<circle cx="1213.5" cy="111.5" r="1.35"/>
<circle cx="1296.5" cy="244.5" r="1.35"/>
<circle cx="1173.5" cy="75.5" r="1.35"/>
<circle cx="1307.5" cy="304.5" r="1.35"/>
<circle cx="1093.5" cy="182.5" r="1.35"/>
<circle cx="1210.5" cy="72.5" r="1.35"/>
<circle cx="1297.5" cy="252.5" r="1.35"/>
<circle cx="1167.5" cy="100.5" r="1.35"/>
<circle cx="1319.5" cy="281.5" r="1.35"/>
<circle cx="1123.5" cy="116.5" r="1.35"/>
<circle cx="1267.5" cy="182.5" r="1.35"/>
<circle cx="1217.5" cy="109.5" r="1.35"/>
<circle cx="1304.5" cy="256.5" r="1.35"/>
<circle cx="1177.5" cy="89.5" r="1.35"/>
<circle cx="1301.5" cy="285.5" r="1.35"/>
<circle cx="1115.5" cy="156.5" r="1.35"/>
<circle cx="1255.5" cy="133.5" r="1.35"/>
<circle cx="1251.5" cy="154.5" r="1.35"/>
<circle cx="1230.5" cy="132.5" r="1.35"/>
<circle cx="1255.5" cy="161.5" r="1.35"/>
<circle cx="1253.5" cy="127.5" r="1.35"/>
<circle cx="1254.5" cy="191.5" r="1.35"/>
<circle cx="1224.5" cy="107.5" r="1.35"/>
<circle cx="1258.5" cy="253.5" r="1.35"/>
<circle cx="1188.5" cy="105.5" r="1.35"/>
<circle cx="1316.5" cy="302.5" r="1.35"/>
<circle cx="1091.5" cy="173.5" r="1.35"/>
<circle cx="1209.5" cy="79.5" r="1.35"/>
<circle cx="1299.5" cy="294.5" r="1.35"/>
<circle cx="1118.5" cy="118.5" r="1.35"/>
<circle cx="1261.5" cy="167.5" r="1.35"/>
<circle cx="1235.5" cy="97.5" r="1.35"/>
<circle cx="1281.5" cy="204.5" r="1.35"/>
<circle cx="1196.5" cy="79.5" r="1.35"/>
<circle cx="1326.5" cy="299.5" r="1.35"/>
<circle cx="1078.5" cy="186.5" r="1.35"/>
<circle cx="1216.5" cy="86.5" r="1.35"/>
<circle cx="1298.5" cy="284.5" r="1.35"/>
<circle cx="1113.5" cy="142.5" r="1.35"/>
<circle cx="1249.5" cy="197.5" r="1.35"/>
<circle cx="1230.5" cy="81.5" r="1.35"/>
<circle cx="1286.5" cy="276.5" r="1.35"/>
<circle cx="1147.5" cy="83.5" r="1.35"/>
<circle cx="1306.5" cy="276.5" r="1.35"/>
<circle cx="1121.5" cy="106.5" r="1.35"/>
<circle cx="1280.5" cy="203.5" r="1.35"/>
<circle cx="1200.5" cy="76.5" r="1.35"/>
<circle cx="1317.5" cy="289.5" r="1.35"/>
<circle cx="1107.5" cy="171.5" r="1.35"/>
<circle cx="1219.5" cy="93.5" r="1.35"/>
<circle cx="1301.5" cy="235.5" r="1.35"/>
<circle cx="1161.5" cy="97.5" r="1.35"/>
<circle cx="1308.5" cy="284.5" r="1.35"/>
<circle cx="1109.5" cy="138.5" r="1.35"/>
<circle cx="1259.5" cy="136.5" r="1.35"/>
<circle cx="1249.5" cy="165.5" r="1.35"/>
<circle cx="1248.5" cy="140.5" r="1.35"/>
<circle cx="1281.5" cy="166.5" r="1.35"/>
<circle cx="1220.5" cy="105.5" r="1.35"/>
<circle cx="1315.5" cy="275.5" r="1.35"/>
<circle cx="1143.5" cy="89.5" r="1.35"/>
<circle cx="1300.5" cy="261.5" r="1.35"/>
<circle cx="1139.5" cy="102.5" r="1.35"/>
<circle cx="1287.5" cy="249.5" r="1.35"/>
<circle cx="1150.5" cy="95.5" r="1.35"/>
<circle cx="1301.5" cy="304.5" r="1.35"/>
<circle cx="1115.5" cy="149.5" r="1.35"/>
<circle cx="1251.5" cy="138.5" r="1.35"/>
<circle cx="1257.5" cy="111.5" r="1.35"/>
<circle cx="1279.5" cy="155.5" r="1.35"/>
<circle cx="1220.5" cy="99.5" r="1.35"/>
<circle cx="1293.5" cy="253.5" r="1.35"/>
<circle cx="1186.5" cy="75.5" r="1.35"/>
<circle cx="1315.5" cy="322.5" r="1.35"/>
<circle cx="1109.5" cy="226.5" r="1.35"/>
<circle cx="1214.5" cy="68.5" r="1.35"/>
<circle cx="1312.5" cy="303.5" r="1.35"/>
<circle cx="1104.5" cy="162.5" r="1.35"/>
<circle cx="1216.5" cy="98.5" r="1.35"/>
<circle cx="1290.5" cy="220.5" r="1.35"/>
<circle cx="1184.5" cy="79.5" r="1.35"/>
<circle cx="1314.5" cy="317.5" r="1.35"/>
<circle cx="1089.5" cy="191.5" r="1.35"/>
<circle cx="1216.5" cy="77.5" r="1.35"/>
<circle cx="1326.5" cy="295.5" r="1.35"/>
<circle cx="1118.5" cy="123.5" r="1.35"/>
<circle cx="1259.5" cy="120.5" r="1.35"/>
<circle cx="1265.5" cy="179.5" r="1.35"/>
<circle cx="1236.5" cy="102.5" r="1.35"/>
<circle cx="1295.5" cy="231.5" r="1.35"/>
<circle cx="1163.5" cy="81.5" r="1.35"/>
<circle cx="1330.5" cy="313.5" r="1.35"/>
<circle cx="1084.5" cy="187.5" r="1.35"/>
<circle cx="1201.5" cy="86.5" r="1.35"/>
<circle cx="1319.5" cy="278.5" r="1.35"/>
<circle cx="1141.5" cy="115.5" r="1.35"/>
<circle cx="1262.5" cy="174.5" r="1.35"/>
<circle cx="1223.5" cy="94.5" r="1.35"/>
<circle cx="1319.5" cy="258.5" r="1.35"/>
<circle cx="1167.5" cy="100.5" r="1.35"/>
<circle cx="1291.5" cy="303.5" r="1.35"/>
<circle cx="1098.5" cy="162.5" r="1.35"/>
<circle cx="1257.5" cy="104.5" r="1.35"/>
<circle cx="1286.5" cy="226.5" r="1.35"/>
<circle cx="1206.5" cy="85.5" r="1.35"/>
<circle cx="1321.5" cy="333.5" r="1.35"/>
<circle cx="1102.5" cy="187.5" r="1.35"/>
<circle cx="1221.5" cy="98.5" r="1.35"/>
<circle cx="1281.5" cy="252.5" r="1.35"/>
<circle cx="1156.5" cy="104.5" r="1.35"/>
<circle cx="1290.5" cy="285.5" r="1.35"/>
<circle cx="1136.5" cy="110.5" r="1.35"/>
<circle cx="1301.5" cy="230.5" r="1.35"/>
<circle cx="1188.5" cy="71.5" r="1.35"/>
<circle cx="1313.5" cy="316.5" r="1.35"/>
<circle cx="1088.5" cy="193.5" r="1.35"/>
<circle cx="1210.5" cy="86.5" r="1.35"/>
<circle cx="1317.5" cy="297.5" r="1.35"/>
<circle cx="1091.5" cy="170.5" r="1.35"/>
<circle cx="1239.5" cy="119.5" r="1.35"/>
<circle cx="1297.5" cy="208.5" r="1.35"/>
<circle cx="1201.5" cy="88.5" r="1.35"/>
<circle cx="1305.5" cy="316.5" r="1.35"/>
<circle cx="1084.5" cy="180.5" r="1.35"/>
<circle cx="1193.5" cy="73.5" r="1.35"/>
<circle cx="1297.5" cy="323.5" r="1.35"/>
<circle cx="1133.5" cy="147.5" r="1.35"/>
<circle cx="1263.5" cy="151.5" r="1.35"/>
<circle cx="1229.5" cy="122.5" r="1.35"/>
<circle cx="1277.5" cy="213.5" r="1.35"/>
<circle cx="1194.5" cy="87.5" r="1.35"/>
<circle cx="1311.5" cy="327.5" r="1.35"/>
<circle cx="1088.5" cy="187.5" r="1.35"/>
<circle cx="1206.5" cy="104.5" r="1.35"/>
<circle cx="1310.5" cy="283.5" r="1.35"/>
<circle cx="1136.5" cy="118.5" r="1.35"/>
<circle cx="1263.5" cy="196.5" r="1.35"/>
<circle cx="1223.5" cy="101.5" r="1.35"/>
<circle cx="1302.5" cy="232.5" r="1.35"/>
<circle cx="1152.5" cy="84.5" r="1.35"/>
<circle cx="1303.5" cy="307.5" r="1.35"/>
<circle cx="1101.5" cy="142.5" r="1.35"/>
<circle cx="1242.5" cy="126.5" r="1.35"/>
<circle cx="1275.5" cy="211.5" r="1.35"/>
<circle cx="1197.5" cy="83.5" r="1.35"/>
<circle cx="1311.5" cy="306.5" r="1.35"/>
<circle cx="1095.5" cy="147.5" r="1.35"/>
<circle cx="1226.5" cy="130.5" r="1.35"/>
<circle cx="1257.5" cy="202.5" r="1.35"/>
<circle cx="1219.5" cy="94.5" r="1.35"/>
<circle cx="1289.5" cy="276.5" r="1.35"/>
<circle cx="1124.5" cy="123.5" r="1.35"/>
<circle cx="1271.5" cy="177.5" r="1.35"/>
<circle cx="1242.5" cy="112.5" r="1.35"/>
<circle cx="1283.5" cy="226.5" r="1.35"/>
<circle cx="1182.5" cy="92.5" r="1.35"/>
<circle cx="1313.5" cy="327.5" r="1.35"/>
<circle cx="1082.5" cy="191.5" r="1.35"/>
<circle cx="1192.5" cy="89.5" r="1.35"/>
<circle cx="1320.5" cy="284.5" r="1.35"/>
<circle cx="1095.5" cy="160.5" r="1.35"/>
<circle cx="1254.5" cy="109.5" r="1.35"/>
<circle cx="1286.5" cy="230.5" r="1.35"/>
<circle cx="1192.5" cy="89.5" r="1.35"/>
<circle cx="1315.5" cy="303.5" r="1.35"/>
<circle cx="1103.5" cy="177.5" r="1.35"/>
<circle cx="1203.5" cy="69.5" r="1.35"/>
<circle cx="1294.5" cy="267.5" r="1.35"/>
<circle cx="1119.5" cy="117.5" r="1.35"/>
<circle cx="1278.5" cy="214.5" r="1.35"/>
<circle cx="1211.5" cy="86.5" r="1.35"/>
<circle cx="1307.5" cy="297.5" r="1.35"/>
<circle cx="1104.5" cy="167.5" r="1.35"/>
<circle cx="1246.5" cy="125.5" r="1.35"/>
<circle cx="1273.5" cy="170.5" r="1.35"/>
<circle cx="1251.5" cy="110.5" r="1.35"/>
<circle cx="1278.5" cy="211.5" r="1.35"/>
<circle cx="1197.5" cy="78.5" r="1.35"/>
<circle cx="1312.5" cy="265.5" r="1.35"/>
<circle cx="1116.5" cy="158.5" r="1.35"/>
<circle cx="1258.5" cy="139.5" r="1.35"/>
<circle cx="1270.5" cy="113.5" r="1.35"/>
<circle cx="1264.5" cy="152.5" r="1.35"/>
<circle cx="1243.5" cy="135.5" r="1.35"/>
<circle cx="1251.5" cy="151.5" r="1.35"/>
<circle cx="1259.5" cy="115.5" r="1.35"/>
<circle cx="1271.5" cy="202.5" r="1.35"/>
<circle cx="1234.5" cy="88.5" r="1.35"/>
<circle cx="1293.5" cy="246.5" r="1.35"/>
<circle cx="1149.5" cy="64.5" r="1.35"/>
<circle cx="1307.5" cy="289.5" r="1.35"/>
<circle cx="1136.5" cy="139.5" r="1.35"/>
<circle cx="1271.5" cy="174.5" r="1.35"/>
<circle cx="1221.5" cy="125.5" r="1.35"/>
<circle cx="1287.5" cy="236.5" r="1.35"/>
<circle cx="1168.5" cy="67.5" r="1.35"/>
<circle cx="1313.5" cy="313.5" r="1.35"/>
<circle cx="1105.5" cy="177.5" r="1.35"/>
<circle cx="1240.5" cy="91.5" r="1.35"/>
<circle cx="1301.5" cy="265.5" r="1.35"/>
<circle cx="1141.5" cy="119.5" r="1.35"/>
<circle cx="1295.5" cy="235.5" r="1.35"/>
<circle cx="1159.5" cy="98.5" r="1.35"/>
<circle cx="1301.5" cy="294.5" r="1.35"/>
<circle cx="1122.5" cy="114.5" r="1.35"/>
<circle cx="1268.5" cy="174.5" r="1.35"/>
<circle cx="1222.5" cy="101.5" r="1.35"/>
<circle cx="1294.5" cy="217.5" r="1.35"/>
<circle cx="1173.5" cy="81.5" r="1.35"/>
<circle cx="1304.5" cy="305.5" r="1.35"/>
<circle cx="1096.5" cy="192.5" r="1.35"/>
<circle cx="1209.5" cy="105.5" r="1.35"/>
<circle cx="1320.5" cy="285.5" r="1.35"/>
<circle cx="1127.5" cy="114.5" r="1.35"/>
<circle cx="1271.5" cy="187.5" r="1.35"/>
<circle cx="1221.5" cy="88.5" r="1.35"/>
<circle cx="1290.5" cy="242.5" r="1.35"/>
<circle cx="1169.5" cy="88.5" r="1.35"/>
<circle cx="1300.5" cy="293.5" r="1.35"/>
<circle cx="1122.5" cy="133.5" r="1.35"/>
<circle cx="1239.5" cy="140.5" r="1.35"/>
<circle cx="1253.5" cy="134.5" r="1.35"/>
<circle cx="1270.5" cy="146.5" r="1.35"/>
<circle cx="1245.5" cy="99.5" r="1.35"/>
<circle cx="1277.5" cy="201.5" r="1.35"/>
<circle cx="1218.5" cy="75.5" r="1.35"/>
<circle cx="1300.5" cy="327.5" r="1.35"/>
<circle cx="1103.5" cy="143.5" r="1.35"/>
<circle cx="1254.5" cy="131.5" r="1.35"/>
<circle cx="1271.5" cy="173.5" r="1.35"/>
<circle cx="1250.5" cy="94.5" r="1.35"/>
<circle cx="1269.5" cy="181.5" r="1.35"/>
<circle cx="1228.5" cy="95.5" r="1.35"/>
<circle cx="1300.5" cy="261.5" r="1.35"/>
<circle cx="1143.5" cy="93.5" r="1.35"/>
<circle cx="1277.5" cy="279.5" r="1.35"/>
<circle cx="1123.5" cy="137.5" r="1.35"/>
<circle cx="1268.5" cy="219.5" r="1.35"/>
<circle cx="1193.5" cy="78.5" r="1.35"/>
<circle cx="1301.5" cy="306.5" r="1.35"/>
<circle cx="1087.5" cy="167.5" r="1.35"/>
<circle cx="1225.5" cy="99.5" r="1.35"/>
<circle cx="1300.5" cy="275.5" r="1.35"/>
<circle cx="1143.5" cy="102.5" r="1.35"/>
<circle cx="1308.5" cy="254.5" r="1.35"/>
<circle cx="1161.5" cy="86.5" r="1.35"/>
<circle cx="1305.5" cy="310.5" r="1.35"/>
<circle cx="1119.5" cy="147.5" r="1.35"/>
<circle cx="1235.5" cy="114.5" r="1.35"/>
<circle cx="1258.5" cy="185.5" r="1.35"/>
<circle cx="1233.5" cy="86.5" r="1.35"/>
<circle cx="1303.5" cy="278.5" r="1.35"/>
<circle cx="1147.5" cy="121.5" r="1.35"/>
<circle cx="1297.5" cy="242.5" r="1.35"/>
<circle cx="1177.5" cy="93.5" r="1.35"/>
<circle cx="1306.5" cy="324.5" r="1.35"/>
<circle cx="1101.5" cy="172.5" r="1.35"/>
<circle cx="1223.5" cy="87.5" r="1.35"/>
<circle cx="1290.5" cy="219.5" r="1.35"/>
<circle cx="1181.5" cy="73.5" r="1.35"/>
<circle cx="1309.5" cy="302.5" r="1.35"/>
<circle cx="1096.5" cy="194.5" r="1.35"/>
<circle cx="1236.5" cy="85.5" r="1.35"/>
<circle cx="1297.5" cy="306.5" r="1.35"/>
<circle cx="1121.5" cy="153.5" r="1.35"/>
<circle cx="1264.5" cy="116.5" r="1.35"/>
<circle cx="1267.5" cy="136.5" r="1.35"/>
<circle cx="1246.5" cy="123.5" r="1.35"/>
<circle cx="1272.5" cy="120.5" r="1.35"/>
<circle cx="1252.5" cy="94.5" r="1.35"/>
<circle cx="1271.5" cy="197.5" r="1.35"/>
<circle cx="1221.5" cy="77.5" r="1.35"/>
<circle cx="1300.5" cy="269.5" r="1.35"/>
<circle cx="1159.5" cy="87.5" r="1.35"/>
<circle cx="1307.5" cy="288.5" r="1.35"/>
<circle cx="1165.5" cy="115.5" r="1.35"/>
<circle cx="1291.5" cy="259.5" r="1.35"/>
<circle cx="1168.5" cy="66.5" r="1.35"/>
<circle cx="1304.5" cy="315.5" r="1.35"/>
<circle cx="1121.5" cy="131.5" r="1.35"/>
<circle cx="1257.5" cy="123.5" r="1.35"/>
<circle cx="1252.5" cy="138.5" r="1.35"/>
<circle cx="1242.5" cy="122.5" r="1.35"/>
<circle cx="1253.5" cy="116.5" r="1.35"/>
<circle cx="1252.5" cy="119.5" r="1.35"/>
<circle cx="1281.5" cy="176.5" r="1.35"/>
<circle cx="1240.5" cy="80.5" r="1.35"/>
<circle cx="1278.5" cy="225.5" r="1.35"/>
<circle cx="1174.5" cy="95.5" r="1.35"/>
<circle cx="1313.5" cy="314.5" r="1.35"/>
<circle cx="1090.5" cy="183.5" r="1.35"/>
<circle cx="1213.5" cy="97.5" r="1.35"/>
<circle cx="1313.5" cy="301.5" r="1.35"/>
<circle cx="1121.5" cy="144.5" r="1.35"/>
<circle cx="1257.5" cy="172.5" r="1.35"/>
<circle cx="1224.5" cy="101.5" r="1.35"/>
<circle cx="1275.5" cy="203.5" r="1.35"/>
<circle cx="1191.5" cy="109.5" r="1.35"/>
<circle cx="1307.5" cy="306.5" r="1.35"/>
<circle cx="1110.5" cy="152.5" r="1.35"/>
<circle cx="1232.5" cy="129.5" r="1.35"/>
<circle cx="1272.5" cy="199.5" r="1.35"/>
<circle cx="1214.5" cy="82.5" r="1.35"/>
<circle cx="1318.5" cy="296.5" r="1.35"/>
<circle cx="1137.5" cy="119.5" r="1.35"/>
<circle cx="1266.5" cy="247.5" r="1.35"/>
<circle cx="1196.5" cy="73.5" r="1.35"/>
<circle cx="1316.5" cy="326.5" r="1.35"/>
<circle cx="1087.5" cy="207.5" r="1.35"/>
<circle cx="1204.5" cy="105.5" r="1.35"/>
<circle cx="1312.5" cy="316.5" r="1.35"/>
<circle cx="1117.5" cy="132.5" r="1.35"/>
<circle cx="1255.5" cy="140.5" r="1.35"/>
<circle cx="1251.5" cy="158.5" r="1.35"/>
<circle cx="1242.5" cy="121.5" r="1.35"/>
<circle cx="1256.5" cy="206.5" r="1.35"/>
<circle cx="1208.5" cy="79.5" r="1.35"/>
<circle cx="1291.5" cy="292.5" r="1.35"/>
<circle cx="1137.5" cy="91.5" r="1.35"/>
<circle cx="1292.5" cy="270.5" r="1.35"/>
<circle cx="1172.5" cy="99.5" r="1.35"/>
<circle cx="1302.5" cy="265.5" r="1.35"/>
<circle cx="1133.5" cy="97.5" r="1.35"/>
<circle cx="1271.5" cy="261.5" r="1.35"/>
<circle cx="1156.5" cy="81.5" r="1.35"/>
<circle cx="1294.5" cy="303.5" r="1.35"/>
<circle cx="1085.5" cy="158.5" r="1.35"/>
<circle cx="1247.5" cy="114.5" r="1.35"/>
<circle cx="1270.5" cy="190.5" r="1.35"/>
<circle cx="1214.5" cy="79.5" r="1.35"/>
<circle cx="1332.5" cy="277.5" r="1.35"/>
<circle cx="1119.5" cy="127.5" r="1.35"/>
<circle cx="1262.5" cy="180.5" r="1.35"/>
<circle cx="1244.5" cy="111.5" r="1.35"/>
<circle cx="1272.5" cy="191.5" r="1.35"/>
<circle cx="1202.5" cy="95.5" r="1.35"/>
<circle cx="1302.5" cy="311.5" r="1.35"/>
<circle cx="1126.5" cy="164.5" r="1.35"/>
<circle cx="1258.5" cy="134.5" r="1.35"/>
<circle cx="1229.5" cy="121.5" r="1.35"/>
<circle cx="1263.5" cy="201.5" r="1.35"/>
<circle cx="1201.5" cy="97.5" r="1.35"/>
<circle cx="1304.5" cy="286.5" r="1.35"/>
<circle cx="1122.5" cy="117.5" r="1.35"/>
<circle cx="1267.5" cy="180.5" r="1.35"/>
<circle cx="1248.5" cy="104.5" r="1.35"/>
<circle cx="1278.5" cy="224.5" r="1.35"/>
<circle cx="1204.5" cy="105.5" r="1.35"/>
<circle cx="1313.5" cy="324.5" r="1.35"/>
<circle cx="1100.5" cy="178.5" r="1.35"/>
<circle cx="1202.5" cy="73.5" r="1.35"/>
<circle cx="1310.5" cy="255.5" r="1.35"/>
<circle cx="1126.5" cy="109.5" r="1.35"/>
<circle cx="1279.5" cy="261.5" r="1.35"/>
<circle cx="1176.5" cy="78.5" r="1.35"/>
<circle cx="1306.5" cy="310.5" r="1.35"/>
<circle cx="1113.5" cy="171.5" r="1.35"/>
<circle cx="1228.5" cy="106.5" r="1.35"/>
<circle cx="1283.5" cy="251.5" r="1.35"/>
<circle cx="1164.5" cy="67.5" r="1.35"/>
<circle cx="1303.5" cy="281.5" r="1.35"/>
<circle cx="1125.5" cy="133.5" r="1.35"/>
<circle cx="1266.5" cy="121.5" r="1.35"/>
<circle cx="1268.5" cy="161.5" r="1.35"/>
<circle cx="1238.5" cy="111.5" r="1.35"/>
<circle cx="1276.5" cy="200.5" r="1.35"/>
<circle cx="1221.5" cy="80.5" r="1.35"/>
<circle cx="1297.5" cy="293.5" r="1.35"/>
<circle cx="1113.5" cy="144.5" r="1.35"/>
<circle cx="1273.5" cy="157.5" r="1.35"/>
<circle cx="1240.5" cy="103.5" r="1.35"/>
<circle cx="1283.5" cy="219.5" r="1.35"/>
<circle cx="1181.5" cy="84.5" r="1.35"/>
<circle cx="1295.5" cy="312.5" r="1.35"/>
<circle cx="1098.5" cy="190.5" r="1.35"/>
<circle cx="1203.5" cy="75.5" r="1.35"/>
<circle cx="1296.5" cy="297.5" r="1.35"/>
<circle cx="1093.5" cy="173.5" r="1.35"/>
<circle cx="1229.5" cy="118.5" r="1.35"/>
<circle cx="1297.5" cy="220.5" r="1.35"/>
<circle cx="1200.5" cy="63.5" r="1.35"/>
<circle cx="1300.5" cy="327.5" r="1.35"/>
<circle cx="1107.5" cy="199.5" r="1.35"/>
<circle cx="1223.5" cy="58.5" r="1.35"/>
<circle cx="1295.5" cy="310.5" r="1.35"/>
<circle cx="1093.5" cy="144.5" r="1.35"/>
<circle cx="1270.5" cy="162.5" r="1.35"/>
<circle cx="1236.5" cy="118.5" r="1.35"/>
<circle cx="1275.5" cy="211.5" r="1.35"/>
<circle cx="1206.5" cy="72.5" r="1.35"/>
<circle cx="1316.5" cy="290.5" r="1.35"/>
<circle cx="1131.5" cy="136.5" r="1.35"/>
<circle cx="1269.5" cy="175.5" r="1.35"/>
<circle cx="1241.5" cy="102.5" r="1.35"/>
<circle cx="1277.5" cy="199.5" r="1.35"/>
<circle cx="1218.5" cy="83.5" r="1.35"/>
<circle cx="1290.5" cy="278.5" r="1.35"/>
<circle cx="1133.5" cy="128.5" r="1.35"/>
<circle cx="1266.5" cy="180.5" r="1.35"/>
<circle cx="1230.5" cy="88.5" r="1.35"/>
<circle cx="1293.5" cy="255.5" r="1.35"/>
<circle cx="1172.5" cy="99.5" r="1.35"/>
<circle cx="1317.5" cy="317.5" r="1.35"/>
<circle cx="1127.5" cy="143.5" r="1.35"/>
<circle cx="1242.5" cy="124.5" r="1.35"/>
<circle cx="1264.5" cy="189.5" r="1.35"/>
<circle cx="1222.5" cy="75.5" r="1.35"/>
<circle cx="1292.5" cy="245.5" r="1.35"/>
<circle cx="1152.5" cy="109.5" r="1.35"/>
<circle cx="1287.5" cy="251.5" r="1.35"/>
<circle cx="1159.5" cy="92.5" r="1.35"/>
<circle cx="1313.5" cy="304.5" r="1.35"/>
<circle cx="1130.5" cy="139.5" r="1.35"/>
<circle cx="1269.5" cy="140.5" r="1.35"/>
<circle cx="1245.5" cy="98.5" r="1.35"/>
<circle cx="1299.5" cy="213.5" r="1.35"/>
<circle cx="1163.5" cy="74.5" r="1.35"/>
<circle cx="1316.5" cy="298.5" r="1.35"/>
<circle cx="1091.5" cy="175.5" r="1.35"/>
<circle cx="1206.5" cy="81.5" r="1.35"/>
<circle cx="1301.5" cy="311.5" r="1.35"/>
<circle cx="1113.5" cy="129.5" r="1.35"/>
<circle cx="1257.5" cy="126.5" r="1.35"/>
<circle cx="1260.5" cy="138.5" r="1.35"/>
<circle cx="1263.5" cy="117.5" r="1.35"/>
<circle cx="1272.5" cy="170.5" r="1.35"/>
<circle cx="1235.5" cy="105.5" r="1.35"/>
<circle cx="1272.5" cy="210.5" r="1.35"/>
<circle cx="1211.5" cy="101.5" r="1.35"/>
<circle cx="1303.5" cy="320.5" r="1.35"/>
<circle cx="1104.5" cy="164.5" r="1.35"/>
<circle cx="1241.5" cy="127.5" r="1.35"/>
<circle cx="1293.5" cy="213.5" r="1.35"/>
<circle cx="1196.5" cy="73.5" r="1.35"/>
<circle cx="1326.5" cy="320.5" r="1.35"/>
<circle cx="1085.5" cy="189.5" r="1.35"/>
<circle cx="1214.5" cy="105.5" r="1.35"/>
<circle cx="1301.5" cy="297.5" r="1.35"/>
<circle cx="1112.5" cy="141.5" r="1.35"/>
<circle cx="1250.5" cy="119.5" r="1.35"/>
<circle cx="1257.5" cy="157.5" r="1.35"/>
<circle cx="1212.5" cy="101.5" r="1.35"/>
<circle cx="1293.5" cy="201.5" r="1.35"/>
<circle cx="1192.5" cy="77.5" r="1.35"/>
<circle cx="1314.5" cy="311.5" r="1.35"/>
<circle cx="1081.5" cy="182.5" r="1.35"/>
<circle cx="1202.5" cy="93.5" r="1.35"/>
<circle cx="1313.5" cy="317.5" r="1.35"/>
<circle cx="1105.5" cy="149.5" r="1.35"/>
<circle cx="1251.5" cy="122.5" r="1.35"/>
<circle cx="1279.5" cy="215.5" r="1.35"/>
<circle cx="1199.5" cy="73.5" r="1.35"/>
<circle cx="1314.5" cy="314.5" r="1.35"/>
<circle cx="1101.5" cy="166.5" r="1.35"/>
<circle cx="1246.5" cy="129.5" r="1.35"/>
<circle cx="1257.5" cy="207.5" r="1.35"/>
<circle cx="1216.5" cy="65.5" r="1.35"/>
<circle cx="1305.5" cy="266.5" r="1.35"/>
<circle cx="1133.5" cy="100.5" r="1.35"/>
<circle cx="1288.5" cy="258.5" r="1.35"/>
<circle cx="1183.5" cy="111.5" r="1.35"/>
<circle cx="1313.5" cy="331.5" r="1.35"/>
<circle cx="1106.5" cy="176.5" r="1.35"/>
<circle cx="1208.5" cy="71.5" r="1.35"/>
<circle cx="1304.5" cy="316.5" r="1.35"/>
<circle cx="1115.5" cy="160.5" r="1.35"/>
<circle cx="1243.5" cy="144.5" r="1.35"/>
<circle cx="1231.5" cy="114.5" r="1.35"/>
<circle cx="1276.5" cy="185.5" r="1.35"/>
<circle cx="1219.5" cy="81.5" r="1.35"/>
<circle cx="1310.5" cy="277.5" r="1.35"/>
<circle cx="1146.5" cy="102.5" r="1.35"/>
<circle cx="1294.5" cy="261.5" r="1.35"/>
<circle cx="1163.5" cy="83.5" r="1.35"/>
<circle cx="1304.5" cy="281.5" r="1.35"/>
<circle cx="1148.5" cy="139.5" r="1.35"/>
<circle cx="1273.5" cy="207.5" r="1.35"/>
<circle cx="1196.5" cy="61.5" r="1.35"/>
<circle cx="1319.5" cy="307.5" r="1.35"/>
<circle cx="1094.5" cy="195.5" r="1.35"/>
<circle cx="1219.5" cy="95.5" r="1.35"/>
<circle cx="1316.5" cy="286.5" r="1.35"/>
<circle cx="1112.5" cy="154.5" r="1.35"/>
<circle cx="1247.5" cy="124.5" r="1.35"/>
<circle cx="1270.5" cy="145.5" r="1.35"/>
<circle cx="1244.5" cy="116.5" r="1.35"/>
<circle cx="1283.5" cy="221.5" r="1.35"/>
<circle cx="1230.5" cy="81.5" r="1.35"/>
<circle cx="1303.5" cy="290.5" r="1.35"/>
<circle cx="1125.5" cy="136.5" r="1.35"/>
<circle cx="1280.5" cy="220.5" r="1.35"/>
<circle cx="1201.5" cy="81.5" r="1.35"/>
<circle cx="1310.5" cy="319.5" r="1.35"/>
<circle cx="1101.5" cy="181.5" r="1.35"/>
<circle cx="1212.5" cy="107.5" r="1.35"/>
<circle cx="1307.5" cy="285.5" r="1.35"/>
<circle cx="1113.5" cy="119.5" r="1.35"/>
<circle cx="1262.5" cy="161.5" r="1.35"/>
<circle cx="1251.5" cy="114.5" r="1.35"/>
<circle cx="1275.5" cy="210.5" r="1.35"/>
<circle cx="1204.5" cy="70.5" r="1.35"/>
<circle cx="1301.5" cy="304.5" r="1.35"/>
<circle cx="1115.5" cy="164.5" r="1.35"/>
<circle cx="1232.5" cy="136.5" r="1.35"/>
<circle cx="1267.5" cy="175.5" r="1.35"/>
<circle cx="1230.5" cy="71.5" r="1.35"/>
<circle cx="1312.5" cy="268.5" r="1.35"/>
<circle cx="1142.5" cy="82.5" r="1.35"/>
<circle cx="1302.5" cy="255.5" r="1.35"/>
<circle cx="1144.5" cy="82.5" r="1.35"/>
<circle cx="1314.5" cy="312.5" r="1.35"/>
<circle cx="1116.5" cy="157.5" r="1.35"/>
<circle cx="1243.5" cy="136.5" r="1.35"/>
<circle cx="1241.5" cy="136.5" r="1.35"/>
<circle cx="1248.5" cy="124.5" r="1.35"/>
<circle cx="1263.5" cy="162.5" r="1.35"/>
<circle cx="1249.5" cy="123.5" r="1.35"/>
<circle cx="1273.5" cy="191.5" r="1.35"/>
<circle cx="1230.5" cy="92.5" r="1.35"/>
<circle cx="1304.5" cy="267.5" r="1.35"/>
<circle cx="1136.5" cy="92.5" r="1.35"/>
<circle cx="1294.5" cy="249.5" r="1.35"/>
<circle cx="1145.5" cy="122.5" r="1.35"/>
<circle cx="1307.5" cy="251.5" r="1.35"/>
<circle cx="1141.5" cy="102.5" r="1.35"/>
<circle cx="1304.5" cy="251.5" r="1.35"/>
<circle cx="1158.5" cy="90.5" r="1.35"/>
<circle cx="1325.5" cy="276.5" r="1.35"/>
<circle cx="1123.5" cy="121.5" r="1.35"/>
<circle cx="1271.5" cy="206.5" r="1.35"/>
<circle cx="1222.5" cy="79.5" r="1.35"/>
<circle cx="1298.5" cy="275.5" r="1.35"/>
<circle cx="1172.5" cy="95.5" r="1.35"/>
<circle cx="1294.5" cy="266.5" r="1.35"/>
<circle cx="1136.5" cy="124.5" r="1.35"/>
<circle cx="1291.5" cy="249.5" r="1.35"/>
<circle cx="1169.5" cy="93.5" r="1.35"/>
<circle cx="1298.5" cy="305.5" r="1.35"/>
<circle cx="1119.5" cy="124.5" r="1.35"/>
<circle cx="1259.5" cy="129.5" r="1.35"/>
<circle cx="1260.5" cy="158.5" r="1.35"/>
<circle cx="1242.5" cy="94.5" r="1.35"/>
<circle cx="1266.5" cy="196.5" r="1.35"/>
<circle cx="1216.5" cy="88.5" r="1.35"/>
<circle cx="1293.5" cy="297.5" r="1.35"/>
<circle cx="1148.5" cy="106.5" r="1.35"/>
<circle cx="1301.5" cy="219.5" r="1.35"/>
<circle cx="1179.5" cy="60.5" r="1.35"/>
<circle cx="1312.5" cy="332.5" r="1.35"/>
<circle cx="1071.5" cy="182.5" r="1.35"/>
<circle cx="1201.5" cy="68.5" r="1.35"/>
<circle cx="1312.5" cy="295.5" r="1.35"/>
<circle cx="1108.5" cy="158.5" r="1.35"/>
<circle cx="1242.5" cy="128.5" r="1.35"/>
<circle cx="1285.5" cy="204.5" r="1.35"/>
<circle cx="1209.5" cy="91.5" r="1.35"/>
<circle cx="1303.5" cy="318.5" r="1.35"/>
<circle cx="1126.5" cy="141.5" r="1.35"/>
<circle cx="1234.5" cy="131.5" r="1.35"/>
<circle cx="1251.5" cy="157.5" r="1.35"/>
<circle cx="1237.5" cy="90.5" r="1.35"/>
<circle cx="1268.5" cy="205.5" r="1.35"/>
<circle cx="1209.5" cy="110.5" r="1.35"/>
<circle cx="1300.5" cy="307.5" r="1.35"/>
<circle cx="1122.5" cy="117.5" r="1.35"/>
<circle cx="1277.5" cy="209.5" r="1.35"/>
<circle cx="1213.5" cy="93.5" r="1.35"/>
<circle cx="1308.5" cy="324.5" r="1.35"/>
<circle cx="1111.5" cy="160.5" r="1.35"/>
<circle cx="1240.5" cy="137.5" r="1.35"/>
<circle cx="1256.5" cy="173.5" r="1.35"/>
<circle cx="1231.5" cy="108.5" r="1.35"/>
<circle cx="1295.5" cy="241.5" r="1.35"/>
<circle cx="1185.5" cy="83.5" r="1.35"/>
<circle cx="1322.5" cy="329.5" r="1.35"/>
<circle cx="1097.5" cy="191.5" r="1.35"/>
<circle cx="1215.5" cy="124.5" r="1.35"/>
<circle cx="1301.5" cy="318.5" r="1.35"/>
<circle cx="1116.5" cy="144.5" r="1.35"/>
<circle cx="1248.5" cy="107.5" r="1.35"/>
<circle cx="1295.5" cy="218.5" r="1.35"/>
<circle cx="1214.5" cy="87.5" r="1.35"/>
<circle cx="1309.5" cy="303.5" r="1.35"/>
<circle cx="1112.5" cy="149.5" r="1.35"/>
<circle cx="1256.5" cy="121.5" r="1.35"/>
<circle cx="1241.5" cy="144.5" r="1.35"/>
<circle cx="1252.5" cy="134.5" r="1.35"/>
<circle cx="1256.5" cy="151.5" r="1.35"/>
<circle cx="1262.5" cy="142.5" r="1.35"/>
<circle cx="1253.5" cy="166.5" r="1.35"/>
<circle cx="1248.5" cy="129.5" r="1.35"/>
<circle cx="1284.5" cy="183.5" r="1.35"/>
<circle cx="1225.5" cy="98.5" r="1.35"/>
<circle cx="1298.5" cy="243.5" r="1.35"/>
<circle cx="1164.5" cy="85.5" r="1.35"/>
<circle cx="1309.5" cy="301.5" r="1.35"/>
<circle cx="1104.5" cy="171.5" r="1.35"/>
<circle cx="1238.5" cy="80.5" r="1.35"/>
<circle cx="1285.5" cy="233.5" r="1.35"/>
<circle cx="1163.5" cy="69.5" r="1.35"/>
<circle cx="1324.5" cy="314.5" r="1.35"/>
<circle cx="1096.5" cy="164.5" r="1.35"/>
<circle cx="1228.5" cy="87.5" r="1.35"/>
<circle cx="1307.5" cy="288.5" r="1.35"/>
<circle cx="1149.5" cy="107.5" r="1.35"/>
<circle cx="1290.5" cy="250.5" r="1.35"/>
<circle cx="1163.5" cy="106.5" r="1.35"/>
<circle cx="1294.5" cy="313.5" r="1.35"/>
<circle cx="1109.5" cy="160.5" r="1.35"/>
<circle cx="1242.5" cy="92.5" r="1.35"/>
<circle cx="1270.5" cy="183.5" r="1.35"/>
<circle cx="1241.5" cy="69.5" r="1.35"/>
<circle cx="1302.5" cy="249.5" r="1.35"/>
<circle cx="1153.5" cy="86.5" r="1.35"/>
<circle cx="1288.5" cy="265.5" r="1.35"/>
<circle cx="1143.5" cy="130.5" r="1.35"/>
<circle cx="1300.5" cy="216.5" r="1.35"/>
<circle cx="1175.5" cy="94.5" r="1.35"/>
<circle cx="1316.5" cy="315.5" r="1.35"/>
<circle cx="1083.5" cy="197.5" r="1.35"/>
<circle cx="1203.5" cy="65.5" r="1.35"/>
<circle cx="1305.5" cy="291.5" r="1.35"/>
<circle cx="1089.5" cy="139.5" r="1.35"/>
<circle cx="1234.5" cy="99.5" r="1.35"/>
<circle cx="1266.5" cy="214.5" r="1.35"/>
<circle cx="1212.5" cy="75.5" r="1.35"/>
<circle cx="1320.5" cy="284.5" r="1.35"/>
<circle cx="1097.5" cy="168.5" r="1.35"/>
<circle cx="1227.5" cy="90.5" r="1.35"/>
<circle cx="1295.5" cy="270.5" r="1.35"/>
<circle cx="1157.5" cy="104.5" r="1.35"/>
<circle cx="1304.5" cy="283.5" r="1.35"/>
<circle cx="1126.5" cy="115.5" r="1.35"/>
<circle cx="1275.5" cy="198.5" r="1.35"/>
<circle cx="1197.5" cy="85.5" r="1.35"/>
<circle cx="1298.5" cy="295.5" r="1.35"/>
<circle cx="1107.5" cy="128.5" r="1.35"/>
<circle cx="1255.5" cy="113.5" r="1.35"/>
<circle cx="1255.5" cy="132.5" r="1.35"/>
<circle cx="1266.5" cy="108.5" r="1.35"/>
<circle cx="1263.5" cy="153.5" r="1.35"/>
<circle cx="1233.5" cy="80.5" r="1.35"/>
<circle cx="1287.5" cy="237.5" r="1.35"/>
<circle cx="1200.5" cy="88.5" r="1.35"/>
<circle cx="1329.5" cy="316.5" r="1.35"/>
<circle cx="1097.5" cy="188.5" r="1.35"/>
<circle cx="1201.5" cy="69.5" r="1.35"/>
<circle cx="1306.5" cy="322.5" r="1.35"/>
<circle cx="1117.5" cy="151.5" r="1.35"/>
<circle cx="1248.5" cy="115.5" r="1.35"/>
<circle cx="1277.5" cy="193.5" r="1.35"/>
<circle cx="1224.5" cy="92.5" r="1.35"/>
<circle cx="1309.5" cy="245.5" r="1.35"/>
<circle cx="1167.5" cy="91.5" r="1.35"/>
<circle cx="1312.5" cy="281.5" r="1.35"/>
<circle cx="1132.5" cy="117.5" r="1.35"/>
<circle cx="1266.5" cy="215.5" r="1.35"/>
<circle cx="1188.5" cy="73.5" r="1.35"/>
<circle cx="1313.5" cy="312.5" r="1.35"/>
<circle cx="1102.5" cy="162.5" r="1.35"/>
<circle cx="1199.5" cy="97.5" r="1.35"/>
<circle cx="1291.5" cy="257.5" r="1.35"/>
<circle cx="1164.5" cy="109.5" r="1.35"/>
<circle cx="1310.5" cy="281.5" r="1.35"/>
<circle cx="1127.5" cy="110.5" r="1.35"/>
<circle cx="1286.5" cy="226.5" r="1.35"/>
<circle cx="1199.5" cy="88.5" r="1.35"/>
<circle cx="1309.5" cy="311.5" r="1.35"/>
<circle cx="1106.5" cy="179.5" r="1.35"/>
<circle cx="1233.5" cy="79.5" r="1.35"/>
<circle cx="1292.5" cy="276.5" r="1.35"/>
<circle cx="1141.5" cy="90.5" r="1.35"/>
<circle cx="1287.5" cy="251.5" r="1.35"/>
<circle cx="1132.5" cy="85.5" r="1.35"/>
<circle cx="1306.5" cy="253.5" r="1.35"/>
<circle cx="1175.5" cy="102.5" r="1.35"/>
<circle cx="1307.5" cy="307.5" r="1.35"/>
<circle cx="1130.5" cy="126.5" r="1.35"/>
<circle cx="1260.5" cy="161.5" r="1.35"/>
<circle cx="1233.5" cy="95.5" r="1.35"/>
<circle cx="1294.5" cy="225.5" r="1.35"/>
<circle cx="1186.5" cy="74.5" r="1.35"/>
<circle cx="1313.5" cy="324.5" r="1.35"/>
<circle cx="1073.5" cy="212.5" r="1.35"/>
<circle cx="1191.5" cy="100.5" r="1.35"/>
<circle cx="1305.5" cy="314.5" r="1.35"/>
<circle cx="1099.5" cy="171.5" r="1.35"/>
<circle cx="1237.5" cy="121.5" r="1.35"/>
<circle cx="1276.5" cy="222.5" r="1.35"/>
<circle cx="1194.5" cy="95.5" r="1.35"/>
<circle cx="1312.5" cy="308.5" r="1.35"/>
<circle cx="1097.5" cy="184.5" r="1.35"/>
<circle cx="1216.5" cy="76.5" r="1.35"/>
<circle cx="1298.5" cy="297.5" r="1.35"/>
<circle cx="1126.5" cy="135.5" r="1.35"/>
<circle cx="1285.5" cy="224.5" r="1.35"/>
<circle cx="1207.5" cy="81.5" r="1.35"/>
<circle cx="1298.5" cy="261.5" r="1.35"/>
<circle cx="1103.5" cy="144.5" r="1.35"/>
<circle cx="1255.5" cy="136.5" r="1.35"/>
<circle cx="1266.5" cy="149.5" r="1.35"/>
<circle cx="1256.5" cy="116.5" r="1.35"/>
<circle cx="1269.5" cy="180.5" r="1.35"/>
<circle cx="1233.5" cy="87.5" r="1.35"/>
<circle cx="1295.5" cy="278.5" r="1.35"/>
<circle cx="1141.5" cy="127.5" r="1.35"/>
<circle cx="1288.5" cy="244.5" r="1.35"/>
<circle cx="1167.5" cy="78.5" r="1.35"/>
<circle cx="1316.5" cy="296.5" r="1.35"/>
</g></g>
<polyline clip-path="url(#cb)" points="1033.00,379.70 1034.50,373.57 1036.00,367.50 1037.50,361.50 1038.99,355.55 1040.49,349.67 1041.99,343.85 1043.49,338.09 1044.99,332.39 1046.49,326.75 1047.98,321.17 1049.48,315.66 1050.98,310.20 1052.48,304.81 1053.98,299.48 1055.48,294.21 1056.97,289.00 1058.47,283.85 1059.97,278.76 1061.47,273.74 1062.97,268.77 1064.47,263.87 1065.97,259.03 1067.46,254.25 1068.96,249.53 1070.46,244.87 1071.96,240.28 1073.46,235.74 1074.96,231.27 1076.45,226.86 1077.95,222.50 1079.45,218.21 1080.95,213.99 1082.45,209.82 1083.95,205.71 1085.45,201.67 1086.94,197.68 1088.44,193.76 1089.94,189.90 1091.44,186.10 1092.94,182.36 1094.44,178.68 1095.93,175.07 1097.43,171.51 1098.93,168.02 1100.43,164.59 1101.93,161.22 1103.43,157.91 1104.92,154.66 1106.42,151.47 1107.92,148.35 1109.42,145.28 1110.92,142.28 1112.42,139.34 1113.92,136.46 1115.41,133.64 1116.91,130.88 1118.41,128.18 1119.91,125.55 1121.41,122.97 1122.91,120.46 1124.40,118.01 1125.90,115.62 1127.40,113.29 1128.90,111.02 1130.40,108.82 1131.90,106.67 1133.39,104.59 1134.89,102.56 1136.39,100.60 1137.89,98.70 1139.39,96.86 1140.89,95.09 1142.39,93.37 1143.88,91.72 1145.38,90.12 1146.88,88.59 1148.38,87.12 1149.88,85.71 1151.38,84.36 1152.87,83.07 1154.37,81.85 1155.87,80.68 1157.37,79.58 1158.87,78.54 1160.37,77.56 1161.87,76.64 1163.36,75.78 1164.86,74.98 1166.36,74.25 1167.86,73.57 1169.36,72.96 1170.86,72.41 1172.35,71.92 1173.85,71.49 1175.35,71.12 1176.85,70.81 1178.35,70.57 1179.85,70.38 1181.34,70.26 1182.84,70.20 1184.34,70.20 1185.84,70.26 1187.34,70.38 1188.84,70.56 1190.34,70.81 1191.83,71.12 1193.33,71.48 1194.83,71.91 1196.33,72.40 1197.83,72.95 1199.33,73.56 1200.82,74.24 1202.32,74.97 1203.82,75.77 1205.32,76.63 1206.82,77.55 1208.32,78.53 1209.81,79.57 1211.31,80.67 1212.81,81.84 1214.31,83.06 1215.81,84.35 1217.31,85.69 1218.81,87.10 1220.30,88.57 1221.80,90.11 1223.30,91.70 1224.80,93.35 1226.30,95.07 1227.80,96.85 1229.29,98.68 1230.79,100.58 1232.29,102.54 1233.79,104.57 1235.29,106.65 1236.79,108.79 1238.29,111.00 1239.78,113.27 1241.28,115.60 1242.78,117.98 1244.28,120.44 1245.78,122.95 1247.28,125.52 1248.77,128.16 1250.27,130.85 1251.77,133.61 1253.27,136.43 1254.77,139.31 1256.27,142.25 1257.76,145.25 1259.26,148.32 1260.76,151.44 1262.26,154.63 1263.76,157.87 1265.26,161.18 1266.76,164.55 1268.25,167.99 1269.75,171.48 1271.25,175.03 1272.75,178.65 1274.25,182.32 1275.75,186.06 1277.24,189.86 1278.74,193.72 1280.24,197.64 1281.74,201.63 1283.24,205.67 1284.74,209.78 1286.24,213.94 1287.73,218.17 1289.23,222.46 1290.73,226.81 1292.23,231.22 1293.73,235.70 1295.23,240.23 1296.72,244.83 1298.22,249.48 1299.72,254.20 1301.22,258.98 1302.72,263.82 1304.22,268.72 1305.71,273.69 1307.21,278.71 1308.71,283.80 1310.21,288.95 1311.71,294.15 1313.21,299.42 1314.71,304.76 1316.20,310.15 1317.70,315.60 1319.20,321.12 1320.70,326.69 1322.20,332.33 1323.70,338.03 1325.19,343.79 1326.69,349.61 1328.19,355.49 1329.69,361.44 1331.19,367.44" fill="none" stroke="#4A44C8" stroke-opacity="0.85" stroke-width="2.5" stroke-linejoin="round"/>
<g clip-path="url(#cd)"><g fill="#E53935" fill-opacity="0.9" filter="url(#soft)">
<circle cx="1158.5" cy="674.5" r="1.35"/>
<circle cx="1276.5" cy="846.5" r="1.35"/>
<circle cx="1089.5" cy="738.5" r="1.35"/>
<circle cx="1190.5" cy="638.5" r="1.35"/>
<circle cx="1260.5" cy="783.5" r="1.35"/>
<circle cx="1112.5" cy="678.5" r="1.35"/>
<circle cx="1263.5" cy="799.5" r="1.35"/>
<circle cx="1178.5" cy="625.5" r="1.35"/>
<circle cx="1264.5" cy="847.5" r="1.35"/>
<circle cx="1082.5" cy="748.5" r="1.35"/>
<circle cx="1204.5" cy="635.5" r="1.35"/>
<circle cx="1274.5" cy="808.5" r="1.35"/>
<circle cx="1117.5" cy="687.5" r="1.35"/>
<circle cx="1236.5" cy="719.5" r="1.35"/>
<circle cx="1200.5" cy="651.5" r="1.35"/>
<circle cx="1278.5" cy="830.5" r="1.35"/>
<circle cx="1104.5" cy="666.5" r="1.35"/>
<circle cx="1252.5" cy="745.5" r="1.35"/>
<circle cx="1148.5" cy="668.5" r="1.35"/>
<circle cx="1251.5" cy="834.5" r="1.35"/>
<circle cx="1063.5" cy="733.5" r="1.35"/>
<circle cx="1186.5" cy="589.5" r="1.35"/>
<circle cx="1250.5" cy="843.5" r="1.35"/>
<circle cx="1105.5" cy="670.5" r="1.35"/>
<circle cx="1228.5" cy="664.5" r="1.35"/>
<circle cx="1248.5" cy="742.5" r="1.35"/>
<circle cx="1164.5" cy="625.5" r="1.35"/>
<circle cx="1260.5" cy="797.5" r="1.35"/>
<circle cx="1116.5" cy="648.5" r="1.35"/>
<circle cx="1254.5" cy="735.5" r="1.35"/>
<circle cx="1174.5" cy="653.5" r="1.35"/>
<circle cx="1262.5" cy="832.5" r="1.35"/>
<circle cx="1097.5" cy="672.5" r="1.35"/>
<circle cx="1229.5" cy="694.5" r="1.35"/>
<circle cx="1239.5" cy="629.5" r="1.35"/>
<circle cx="1241.5" cy="736.5" r="1.35"/>
<circle cx="1191.5" cy="622.5" r="1.35"/>
<circle cx="1284.5" cy="794.5" r="1.35"/>
<circle cx="1097.5" cy="687.5" r="1.35"/>
<circle cx="1231.5" cy="715.5" r="1.35"/>
<circle cx="1241.5" cy="729.5" r="1.35"/>
<circle cx="1228.5" cy="699.5" r="1.35"/>
<circle cx="1231.5" cy="698.5" r="1.35"/>
<circle cx="1204.5" cy="660.5" r="1.35"/>
<circle cx="1288.5" cy="781.5" r="1.35"/>
<circle cx="1106.5" cy="657.5" r="1.35"/>
<circle cx="1276.5" cy="743.5" r="1.35"/>
<circle cx="1157.5" cy="644.5" r="1.35"/>
<circle cx="1261.5" cy="836.5" r="1.35"/>
<circle cx="1122.5" cy="716.5" r="1.35"/>
<circle cx="1219.5" cy="645.5" r="1.35"/>
<circle cx="1246.5" cy="787.5" r="1.35"/>
<circle cx="1144.5" cy="678.5" r="1.35"/>
<circle cx="1278.5" cy="819.5" r="1.35"/>
<circle cx="1110.5" cy="646.5" r="1.35"/>
<circle cx="1256.5" cy="760.5" r="1.35"/>
<circle cx="1211.5" cy="643.5" r="1.35"/>
<circle cx="1274.5" cy="802.5" r="1.35"/>
<circle cx="1171.5" cy="660.5" r="1.35"/>
<circle cx="1260.5" cy="813.5" r="1.35"/>
<circle cx="1102.5" cy="704.5" r="1.35"/>
<circle cx="1213.5" cy="639.5" r="1.35"/>
<circle cx="1260.5" cy="794.5" r="1.35"/>
<circle cx="1161.5" cy="634.5" r="1.35"/>
<circle cx="1263.5" cy="852.5" r="1.35"/>
<circle cx="1086.5" cy="715.5" r="1.35"/>
<circle cx="1205.5" cy="639.5" r="1.35"/>
<circle cx="1288.5" cy="877.5" r="1.35"/>
<circle cx="1089.5" cy="702.5" r="1.35"/>
<circle cx="1224.5" cy="685.5" r="1.35"/>
<circle cx="1243.5" cy="650.5" r="1.35"/>
<circle cx="1208.5" cy="688.5" r="1.35"/>
<circle cx="1225.5" cy="673.5" r="1.35"/>
<circle cx="1240.5" cy="739.5" r="1.35"/>
<circle cx="1241.5" cy="627.5" r="1.35"/>
<circle cx="1264.5" cy="708.5" r="1.35"/>
<circle cx="1185.5" cy="644.5" r="1.35"/>
<circle cx="1265.5" cy="833.5" r="1.35"/>
<circle cx="1098.5" cy="730.5" r="1.35"/>
<circle cx="1247.5" cy="642.5" r="1.35"/>
<circle cx="1245.5" cy="681.5" r="1.35"/>
<circle cx="1193.5" cy="626.5" r="1.35"/>
<circle cx="1274.5" cy="791.5" r="1.35"/>
<circle cx="1113.5" cy="664.5" r="1.35"/>
<circle cx="1245.5" cy="752.5" r="1.35"/>
<circle cx="1191.5" cy="616.5" r="1.35"/>
<circle cx="1266.5" cy="825.5" r="1.35"/>
<circle cx="1129.5" cy="672.5" r="1.35"/>
<circle cx="1285.5" cy="797.5" r="1.35"/>
<circle cx="1140.5" cy="651.5" r="1.35"/>
<circle cx="1264.5" cy="784.5" r="1.35"/>
<circle cx="1150.5" cy="662.5" r="1.35"/>
<circle cx="1263.5" cy="832.5" r="1.35"/>
<circle cx="1130.5" cy="697.5" r="1.35"/>
<circle cx="1251.5" cy="739.5" r="1.35"/>
<circle cx="1205.5" cy="655.5" r="1.35"/>
<circle cx="1248.5" cy="844.5" r="1.35"/>
<circle cx="1120.5" cy="698.5" r="1.35"/>
<circle cx="1224.5" cy="744.5" r="1.35"/>
<circle cx="1175.5" cy="681.5" r="1.35"/>
<circle cx="1262.5" cy="835.5" r="1.35"/>
<circle cx="1115.5" cy="699.5" r="1.35"/>
<circle cx="1266.5" cy="777.5" r="1.35"/>
<circle cx="1184.5" cy="655.5" r="1.35"/>
<circle cx="1258.5" cy="792.5" r="1.35"/>
<circle cx="1088.5" cy="740.5" r="1.35"/>
<circle cx="1215.5" cy="664.5" r="1.35"/>
<circle cx="1271.5" cy="763.5" r="1.35"/>
<circle cx="1150.5" cy="667.5" r="1.35"/>
<circle cx="1268.5" cy="838.5" r="1.35"/>
<circle cx="1108.5" cy="670.5" r="1.35"/>
<circle cx="1225.5" cy="662.5" r="1.35"/>
<circle cx="1244.5" cy="789.5" r="1.35"/>
<circle cx="1171.5" cy="682.5" r="1.35"/>
<circle cx="1273.5" cy="834.5" r="1.35"/>
<circle cx="1073.5" cy="726.5" r="1.35"/>
<circle cx="1191.5" cy="672.5" r="1.35"/>
<circle cx="1257.5" cy="851.5" r="1.35"/>
<circle cx="1113.5" cy="691.5" r="1.35"/>
<circle cx="1223.5" cy="644.5" r="1.35"/>
<circle cx="1258.5" cy="770.5" r="1.35"/>
<circle cx="1173.5" cy="639.5" r="1.35"/>
<circle cx="1270.5" cy="825.5" r="1.35"/>
<circle cx="1065.5" cy="756.5" r="1.35"/>
<circle cx="1185.5" cy="647.5" r="1.35"/>
<circle cx="1273.5" cy="804.5" r="1.35"/>
<circle cx="1091.5" cy="682.5" r="1.35"/>
<circle cx="1269.5" cy="801.5" r="1.35"/>
<circle cx="1158.5" cy="655.5" r="1.35"/>
<circle cx="1284.5" cy="821.5" r="1.35"/>
<circle cx="1081.5" cy="685.5" r="1.35"/>
<circle cx="1213.5" cy="688.5" r="1.35"/>
<circle cx="1269.5" cy="753.5" r="1.35"/>
<circle cx="1105.5" cy="690.5" r="1.35"/>
<circle cx="1282.5" cy="757.5" r="1.35"/>
<circle cx="1177.5" cy="640.5" r="1.35"/>
<circle cx="1271.5" cy="816.5" r="1.35"/>
<circle cx="1089.5" cy="714.5" r="1.35"/>
<circle cx="1201.5" cy="667.5" r="1.35"/>
<circle cx="1251.5" cy="793.5" r="1.35"/>
<circle cx="1142.5" cy="682.5" r="1.35"/>
<circle cx="1255.5" cy="835.5" r="1.35"/>
<circle cx="1153.5" cy="612.5" r="1.35"/>
<circle cx="1258.5" cy="818.5" r="1.35"/>
<circle cx="1088.5" cy="671.5" r="1.35"/>
<circle cx="1196.5" cy="671.5" r="1.35"/>
<circle cx="1282.5" cy="745.5" r="1.35"/>
<circle cx="1156.5" cy="633.5" r="1.35"/>
<circle cx="1287.5" cy="805.5" r="1.35"/>
<circle cx="1092.5" cy="720.5" r="1.35"/>
<circle cx="1191.5" cy="666.5" r="1.35"/>
<circle cx="1262.5" cy="815.5" r="1.35"/>
<circle cx="1114.5" cy="712.5" r="1.35"/>
<circle cx="1259.5" cy="798.5" r="1.35"/>
<circle cx="1169.5" cy="654.5" r="1.35"/>
<circle cx="1267.5" cy="860.5" r="1.35"/>
<circle cx="1069.5" cy="734.5" r="1.35"/>
<circle cx="1179.5" cy="646.5" r="1.35"/>
<circle cx="1297.5" cy="788.5" r="1.35"/>
<circle cx="1093.5" cy="671.5" r="1.35"/>
<circle cx="1212.5" cy="666.5" r="1.35"/>
<circle cx="1254.5" cy="709.5" r="1.35"/>
<circle cx="1221.5" cy="658.5" r="1.35"/>
<circle cx="1244.5" cy="817.5" r="1.35"/>
<circle cx="1121.5" cy="652.5" r="1.35"/>
<circle cx="1252.5" cy="796.5" r="1.35"/>
<circle cx="1142.5" cy="666.5" r="1.35"/>
<circle cx="1284.5" cy="867.5" r="1.35"/>
<circle cx="1087.5" cy="729.5" r="1.35"/>
<circle cx="1190.5" cy="613.5" r="1.35"/>
<circle cx="1258.5" cy="845.5" r="1.35"/>
<circle cx="1107.5" cy="695.5" r="1.35"/>
<circle cx="1215.5" cy="681.5" r="1.35"/>
<circle cx="1252.5" cy="772.5" r="1.35"/>
<circle cx="1175.5" cy="668.5" r="1.35"/>
<circle cx="1251.5" cy="798.5" r="1.35"/>
<circle cx="1120.5" cy="650.5" r="1.35"/>
<circle cx="1219.5" cy="653.5" r="1.35"/>
<circle cx="1254.5" cy="753.5" r="1.35"/>
<circle cx="1200.5" cy="627.5" r="1.35"/>
<circle cx="1261.5" cy="819.5" r="1.35"/>
<circle cx="1114.5" cy="655.5" r="1.35"/>
<circle cx="1267.5" cy="752.5" r="1.35"/>
<circle cx="1174.5" cy="648.5" r="1.35"/>
<circle cx="1270.5" cy="826.5" r="1.35"/>
<circle cx="1090.5" cy="737.5" r="1.35"/>
<circle cx="1211.5" cy="649.5" r="1.35"/>
<circle cx="1280.5" cy="857.5" r="1.35"/>
<circle cx="1115.5" cy="690.5" r="1.35"/>
<circle cx="1233.5" cy="739.5" r="1.35"/>
<circle cx="1204.5" cy="664.5" r="1.35"/>
<circle cx="1268.5" cy="768.5" r="1.35"/>
<circle cx="1203.5" cy="642.5" r="1.35"/>
<circle cx="1268.5" cy="818.5" r="1.35"/>
<circle cx="1110.5" cy="724.5" r="1.35"/>
<circle cx="1239.5" cy="686.5" r="1.35"/>
<circle cx="1260.5" cy="751.5" r="1.35"/>
<circle cx="1219.5" cy="629.5" r="1.35"/>
<circle cx="1259.5" cy="763.5" r="1.35"/>
<circle cx="1155.5" cy="652.5" r="1.35"/>
<circle cx="1247.5" cy="811.5" r="1.35"/>
<circle cx="1142.5" cy="641.5" r="1.35"/>
<circle cx="1272.5" cy="822.5" r="1.35"/>
<circle cx="1155.5" cy="640.5" r="1.35"/>
<circle cx="1299.5" cy="834.5" r="1.35"/>
<circle cx="1132.5" cy="733.5" r="1.35"/>
<circle cx="1227.5" cy="656.5" r="1.35"/>
<circle cx="1194.5" cy="619.5" r="1.35"/>
<circle cx="1273.5" cy="788.5" r="1.35"/>
<circle cx="1156.5" cy="658.5" r="1.35"/>
<circle cx="1272.5" cy="845.5" r="1.35"/>
<circle cx="1098.5" cy="731.5" r="1.35"/>
<circle cx="1165.5" cy="674.5" r="1.35"/>
<circle cx="1237.5" cy="845.5" r="1.35"/>
<circle cx="1102.5" cy="694.5" r="1.35"/>
<circle cx="1219.5" cy="651.5" r="1.35"/>
<circle cx="1255.5" cy="735.5" r="1.35"/>
<circle cx="1175.5" cy="654.5" r="1.35"/>
<circle cx="1258.5" cy="792.5" r="1.35"/>
<circle cx="1067.5" cy="744.5" r="1.35"/>
<circle cx="1188.5" cy="638.5" r="1.35"/>
<circle cx="1255.5" cy="867.5" r="1.35"/>
<circle cx="1081.5" cy="719.5" r="1.35"/>
<circle cx="1236.5" cy="640.5" r="1.35"/>
<circle cx="1245.5" cy="744.5" r="1.35"/>
<circle cx="1217.5" cy="637.5" r="1.35"/>
<circle cx="1248.5" cy="786.5" r="1.35"/>
<circle cx="1141.5" cy="683.5" r="1.35"/>
<circle cx="1254.5" cy="836.5" r="1.35"/>
<circle cx="1089.5" cy="709.5" r="1.35"/>
<circle cx="1227.5" cy="673.5" r="1.35"/>
<circle cx="1240.5" cy="726.5" r="1.35"/>
<circle cx="1199.5" cy="629.5" r="1.35"/>
<circle cx="1275.5" cy="834.5" r="1.35"/>
<circle cx="1136.5" cy="701.5" r="1.35"/>
<circle cx="1219.5" cy="696.5" r="1.35"/>
<circle cx="1239.5" cy="667.5" r="1.35"/>
<circle cx="1248.5" cy="712.5" r="1.35"/>
<circle cx="1202.5" cy="587.5" r="1.35"/>
<circle cx="1244.5" cy="792.5" r="1.35"/>
<circle cx="1118.5" cy="670.5" r="1.35"/>
<circle cx="1273.5" cy="774.5" r="1.35"/>
<circle cx="1163.5" cy="676.5" r="1.35"/>
<circle cx="1274.5" cy="859.5" r="1.35"/>
<circle cx="1084.5" cy="750.5" r="1.35"/>
<circle cx="1206.5" cy="651.5" r="1.35"/>
<circle cx="1270.5" cy="836.5" r="1.35"/>
<circle cx="1073.5" cy="680.5" r="1.35"/>
<circle cx="1218.5" cy="677.5" r="1.35"/>
<circle cx="1218.5" cy="732.5" r="1.35"/>
<circle cx="1163.5" cy="672.5" r="1.35"/>
<circle cx="1257.5" cy="759.5" r="1.35"/>
<circle cx="1158.5" cy="659.5" r="1.35"/>
<circle cx="1269.5" cy="776.5" r="1.35"/>
<circle cx="1104.5" cy="656.5" r="1.35"/>
<circle cx="1241.5" cy="719.5" r="1.35"/>
<circle cx="1200.5" cy="652.5" r="1.35"/>
<circle cx="1274.5" cy="819.5" r="1.35"/>
<circle cx="1096.5" cy="657.5" r="1.35"/>
<circle cx="1209.5" cy="674.5" r="1.35"/>
<circle cx="1265.5" cy="763.5" r="1.35"/>
<circle cx="1158.5" cy="635.5" r="1.35"/>
<circle cx="1279.5" cy="816.5" r="1.35"/>
<circle cx="1109.5" cy="673.5" r="1.35"/>
<circle cx="1219.5" cy="658.5" r="1.35"/>
<circle cx="1244.5" cy="707.5" r="1.35"/>
<circle cx="1223.5" cy="673.5" r="1.35"/>
<circle cx="1255.5" cy="719.5" r="1.35"/>
<circle cx="1211.5" cy="687.5" r="1.35"/>
<circle cx="1244.5" cy="737.5" r="1.35"/>
<circle cx="1211.5" cy="652.5" r="1.35"/>
<circle cx="1243.5" cy="781.5" r="1.35"/>
<circle cx="1174.5" cy="656.5" r="1.35"/>
<circle cx="1294.5" cy="859.5" r="1.35"/>
<circle cx="1094.5" cy="659.5" r="1.35"/>
<circle cx="1234.5" cy="633.5" r="1.35"/>
<circle cx="1259.5" cy="731.5" r="1.35"/>
<circle cx="1155.5" cy="651.5" r="1.35"/>
<circle cx="1274.5" cy="830.5" r="1.35"/>
<circle cx="1102.5" cy="685.5" r="1.35"/>
<circle cx="1229.5" cy="657.5" r="1.35"/>
<circle cx="1232.5" cy="769.5" r="1.35"/>
<circle cx="1201.5" cy="628.5" r="1.35"/>
<circle cx="1263.5" cy="739.5" r="1.35"/>
<circle cx="1148.5" cy="703.5" r="1.35"/>
<circle cx="1270.5" cy="773.5" r="1.35"/>
<circle cx="1139.5" cy="662.5" r="1.35"/>
<circle cx="1292.5" cy="814.5" r="1.35"/>
<circle cx="1113.5" cy="643.5" r="1.35"/>
<circle cx="1251.5" cy="784.5" r="1.35"/>
<circle cx="1154.5" cy="649.5" r="1.35"/>
<circle cx="1297.5" cy="808.5" r="1.35"/>
<circle cx="1103.5" cy="729.5" r="1.35"/>
<circle cx="1208.5" cy="650.5" r="1.35"/>
<circle cx="1280.5" cy="817.5" r="1.35"/>
<circle cx="1113.5" cy="687.5" r="1.35"/>
<circle cx="1247.5" cy="681.5" r="1.35"/>
<circle cx="1212.5" cy="673.5" r="1.35"/>
<circle cx="1258.5" cy="751.5" r="1.35"/>
<circle cx="1166.5" cy="683.5" r="1.35"/>
<circle cx="1297.5" cy="826.5" r="1.35"/>
<circle cx="1095.5" cy="733.5" r="1.35"/>
<circle cx="1188.5" cy="696.5" r="1.35"/>
<circle cx="1261.5" cy="829.5" r="1.35"/>
<circle cx="1093.5" cy="720.5" r="1.35"/>
<circle cx="1248.5" cy="673.5" r="1.35"/>
<circle cx="1259.5" cy="706.5" r="1.35"/>
<circle cx="1198.5" cy="664.5" r="1.35"/>
<circle cx="1263.5" cy="841.5" r="1.35"/>
<circle cx="1099.5" cy="646.5" r="1.35"/>
<circle cx="1246.5" cy="726.5" r="1.35"/>
<circle cx="1219.5" cy="612.5" r="1.35"/>
<circle cx="1259.5" cy="789.5" r="1.35"/>
<circle cx="1135.5" cy="685.5" r="1.35"/>
<circle cx="1264.5" cy="812.5" r="1.35"/>
<circle cx="1124.5" cy="645.5" r="1.35"/>
<circle cx="1235.5" cy="743.5" r="1.35"/>
<circle cx="1168.5" cy="659.5" r="1.35"/>
<circle cx="1259.5" cy="840.5" r="1.35"/>
<circle cx="1099.5" cy="735.5" r="1.35"/>
<circle cx="1177.5" cy="657.5" r="1.35"/>
<circle cx="1280.5" cy="790.5" r="1.35"/>
<circle cx="1120.5" cy="702.5" r="1.35"/>
<circle cx="1215.5" cy="683.5" r="1.35"/>
<circle cx="1248.5" cy="768.5" r="1.35"/>
<circle cx="1181.5" cy="639.5" r="1.35"/>
<circle cx="1272.5" cy="825.5" r="1.35"/>
<circle cx="1077.5" cy="727.5" r="1.35"/>
<circle cx="1202.5" cy="655.5" r="1.35"/>
<circle cx="1301.5" cy="819.5" r="1.35"/>
<circle cx="1108.5" cy="713.5" r="1.35"/>
<circle cx="1241.5" cy="746.5" r="1.35"/>
<circle cx="1202.5" cy="635.5" r="1.35"/>
<circle cx="1265.5" cy="777.5" r="1.35"/>
<circle cx="1152.5" cy="654.5" r="1.35"/>
<circle cx="1254.5" cy="815.5" r="1.35"/>
<circle cx="1104.5" cy="719.5" r="1.35"/>
<circle cx="1175.5" cy="645.5" r="1.35"/>
<circle cx="1288.5" cy="786.5" r="1.35"/>
<circle cx="1119.5" cy="689.5" r="1.35"/>
<circle cx="1223.5" cy="664.5" r="1.35"/>
<circle cx="1267.5" cy="744.5" r="1.35"/>
<circle cx="1202.5" cy="647.5" r="1.35"/>
<circle cx="1269.5" cy="857.5" r="1.35"/>
<circle cx="1080.5" cy="727.5" r="1.35"/>
<circle cx="1174.5" cy="646.5" r="1.35"/>
<circle cx="1271.5" cy="867.5" r="1.35"/>
<circle cx="1125.5" cy="694.5" r="1.35"/>
<circle cx="1247.5" cy="689.5" r="1.35"/>
<circle cx="1225.5" cy="711.5" r="1.35"/>
<circle cx="1215.5" cy="706.5" r="1.35"/>
<circle cx="1240.5" cy="738.5" r="1.35"/>
<circle cx="1210.5" cy="645.5" r="1.35"/>
<circle cx="1262.5" cy="796.5" r="1.35"/>
<circle cx="1138.5" cy="690.5" r="1.35"/>
<circle cx="1271.5" cy="790.5" r="1.35"/>
<circle cx="1126.5" cy="692.5" r="1.35"/>
<circle cx="1264.5" cy="794.5" r="1.35"/>
<circle cx="1147.5" cy="642.5" r="1.35"/>
<circle cx="1268.5" cy="836.5" r="1.35"/>
<circle cx="1117.5" cy="692.5" r="1.35"/>
<circle cx="1269.5" cy="682.5" r="1.35"/>
<circle cx="1232.5" cy="670.5" r="1.35"/>
<circle cx="1254.5" cy="752.5" r="1.35"/>
<circle cx="1169.5" cy="639.5" r="1.35"/>
<circle cx="1276.5" cy="804.5" r="1.35"/>
<circle cx="1078.5" cy="737.5" r="1.35"/>
<circle cx="1211.5" cy="696.5" r="1.35"/>
<circle cx="1255.5" cy="734.5" r="1.35"/>
<circle cx="1231.5" cy="683.5" r="1.35"/>
<circle cx="1254.5" cy="774.5" r="1.35"/>
<circle cx="1158.5" cy="666.5" r="1.35"/>
<circle cx="1266.5" cy="830.5" r="1.35"/>
<circle cx="1083.5" cy="737.5" r="1.35"/>
<circle cx="1210.5" cy="639.5" r="1.35"/>
<circle cx="1303.5" cy="802.5" r="1.35"/>
<circle cx="1126.5" cy="684.5" r="1.35"/>
<circle cx="1248.5" cy="763.5" r="1.35"/>
<circle cx="1154.5" cy="631.5" r="1.35"/>
<circle cx="1271.5" cy="834.5" r="1.35"/>
<circle cx="1084.5" cy="746.5" r="1.35"/>
<circle cx="1172.5" cy="647.5" r="1.35"/>
<circle cx="1273.5" cy="850.5" r="1.35"/>
<circle cx="1083.5" cy="698.5" r="1.35"/>
<circle cx="1234.5" cy="636.5" r="1.35"/>
<circle cx="1275.5" cy="779.5" r="1.35"/>
<circle cx="1190.5" cy="659.5" r="1.35"/>
<circle cx="1265.5" cy="817.5" r="1.35"/>
<circle cx="1095.5" cy="740.5" r="1.35"/>
<circle cx="1189.5" cy="640.5" r="1.35"/>
<circle cx="1264.5" cy="849.5" r="1.35"/>
<circle cx="1099.5" cy="711.5" r="1.35"/>
<circle cx="1210.5" cy="683.5" r="1.35"/>
<circle cx="1224.5" cy="674.5" r="1.35"/>
<circle cx="1223.5" cy="658.5" r="1.35"/>
<circle cx="1260.5" cy="794.5" r="1.35"/>
<circle cx="1155.5" cy="674.5" r="1.35"/>
<circle cx="1287.5" cy="834.5" r="1.35"/>
<circle cx="1076.5" cy="690.5" r="1.35"/>
<circle cx="1208.5" cy="652.5" r="1.35"/>
<circle cx="1261.5" cy="715.5" r="1.35"/>
<circle cx="1182.5" cy="650.5" r="1.35"/>
<circle cx="1266.5" cy="810.5" r="1.35"/>
<circle cx="1102.5" cy="722.5" r="1.35"/>
<circle cx="1195.5" cy="631.5" r="1.35"/>
<circle cx="1250.5" cy="854.5" r="1.35"/>
<circle cx="1093.5" cy="691.5" r="1.35"/>
<circle cx="1246.5" cy="687.5" r="1.35"/>
<circle cx="1244.5" cy="700.5" r="1.35"/>
<circle cx="1204.5" cy="727.5" r="1.35"/>
<circle cx="1262.5" cy="689.5" r="1.35"/>
<circle cx="1230.5" cy="668.5" r="1.35"/>
<circle cx="1275.5" cy="761.5" r="1.35"/>
<circle cx="1180.5" cy="651.5" r="1.35"/>
<circle cx="1266.5" cy="838.5" r="1.35"/>
<circle cx="1081.5" cy="700.5" r="1.35"/>
<circle cx="1248.5" cy="678.5" r="1.35"/>
<circle cx="1260.5" cy="799.5" r="1.35"/>
<circle cx="1177.5" cy="657.5" r="1.35"/>
<circle cx="1261.5" cy="832.5" r="1.35"/>
<circle cx="1096.5" cy="721.5" r="1.35"/>
<circle cx="1184.5" cy="657.5" r="1.35"/>
<circle cx="1259.5" cy="814.5" r="1.35"/>
<circle cx="1151.5" cy="669.5" r="1.35"/>
<circle cx="1247.5" cy="785.5" r="1.35"/>
<circle cx="1138.5" cy="689.5" r="1.35"/>
<circle cx="1267.5" cy="737.5" r="1.35"/>
<circle cx="1152.5" cy="646.5" r="1.35"/>
<circle cx="1264.5" cy="850.5" r="1.35"/>
<circle cx="1081.5" cy="716.5" r="1.35"/>
<circle cx="1188.5" cy="673.5" r="1.35"/>
<circle cx="1262.5" cy="865.5" r="1.35"/>
<circle cx="1090.5" cy="725.5" r="1.35"/>
<circle cx="1219.5" cy="670.5" r="1.35"/>
<circle cx="1237.5" cy="752.5" r="1.35"/>
<circle cx="1174.5" cy="653.5" r="1.35"/>
<circle cx="1269.5" cy="823.5" r="1.35"/>
<circle cx="1117.5" cy="733.5" r="1.35"/>
<circle cx="1211.5" cy="670.5" r="1.35"/>
<circle cx="1240.5" cy="734.5" r="1.35"/>
<circle cx="1218.5" cy="681.5" r="1.35"/>
<circle cx="1234.5" cy="743.5" r="1.35"/>
<circle cx="1214.5" cy="667.5" r="1.35"/>
<circle cx="1259.5" cy="836.5" r="1.35"/>
<circle cx="1146.5" cy="688.5" r="1.35"/>
<circle cx="1251.5" cy="779.5" r="1.35"/>
<circle cx="1162.5" cy="651.5" r="1.35"/>
<circle cx="1268.5" cy="824.5" r="1.35"/>
<circle cx="1084.5" cy="735.5" r="1.35"/>
<circle cx="1214.5" cy="661.5" r="1.35"/>
<circle cx="1263.5" cy="819.5" r="1.35"/>
<circle cx="1142.5" cy="660.5" r="1.35"/>
<circle cx="1265.5" cy="844.5" r="1.35"/>
<circle cx="1118.5" cy="645.5" r="1.35"/>
<circle cx="1264.5" cy="808.5" r="1.35"/>
<circle cx="1137.5" cy="683.5" r="1.35"/>
<circle cx="1282.5" cy="799.5" r="1.35"/>
<circle cx="1115.5" cy="649.5" r="1.35"/>
<circle cx="1263.5" cy="774.5" r="1.35"/>
<circle cx="1130.5" cy="644.5" r="1.35"/>
<circle cx="1282.5" cy="830.5" r="1.35"/>
<circle cx="1082.5" cy="683.5" r="1.35"/>
<circle cx="1188.5" cy="623.5" r="1.35"/>
<circle cx="1262.5" cy="779.5" r="1.35"/>
<circle cx="1173.5" cy="636.5" r="1.35"/>
<circle cx="1247.5" cy="833.5" r="1.35"/>
<circle cx="1078.5" cy="716.5" r="1.35"/>
<circle cx="1192.5" cy="662.5" r="1.35"/>
<circle cx="1249.5" cy="814.5" r="1.35"/>
<circle cx="1131.5" cy="654.5" r="1.35"/>
<circle cx="1250.5" cy="803.5" r="1.35"/>
<circle cx="1150.5" cy="650.5" r="1.35"/>
<circle cx="1281.5" cy="831.5" r="1.35"/>
<circle cx="1081.5" cy="716.5" r="1.35"/>
<circle cx="1204.5" cy="685.5" r="1.35"/>
<circle cx="1253.5" cy="818.5" r="1.35"/>
<circle cx="1100.5" cy="660.5" r="1.35"/>
<circle cx="1223.5" cy="756.5" r="1.35"/>
<circle cx="1223.5" cy="638.5" r="1.35"/>
<circle cx="1263.5" cy="865.5" r="1.35"/>
<circle cx="1119.5" cy="660.5" r="1.35"/>
<circle cx="1250.5" cy="754.5" r="1.35"/>
<circle cx="1200.5" cy="623.5" r="1.35"/>
<circle cx="1269.5" cy="855.5" r="1.35"/>
<circle cx="1141.5" cy="660.5" r="1.35"/>
<circle cx="1234.5" cy="741.5" r="1.35"/>
<circle cx="1180.5" cy="625.5" r="1.35"/>
<circle cx="1251.5" cy="830.5" r="1.35"/>
<circle cx="1104.5" cy="681.5" r="1.35"/>
<circle cx="1271.5" cy="715.5" r="1.35"/>
<circle cx="1183.5" cy="673.5" r="1.35"/>
<circle cx="1257.5" cy="855.5" r="1.35"/>
<circle cx="1068.5" cy="738.5" r="1.35"/>
<circle cx="1183.5" cy="665.5" r="1.35"/>
<circle cx="1293.5" cy="806.5" r="1.35"/>
<circle cx="1062.5" cy="667.5" r="1.35"/>
<circle cx="1228.5" cy="674.5" r="1.35"/>
<circle cx="1240.5" cy="791.5" r="1.35"/>
<circle cx="1197.5" cy="627.5" r="1.35"/>
<circle cx="1254.5" cy="813.5" r="1.35"/>
<circle cx="1090.5" cy="698.5" r="1.35"/>
<circle cx="1185.5" cy="620.5" r="1.35"/>
<circle cx="1251.5" cy="818.5" r="1.35"/>
<circle cx="1152.5" cy="671.5" r="1.35"/>
<circle cx="1279.5" cy="829.5" r="1.35"/>
<circle cx="1129.5" cy="694.5" r="1.35"/>
<circle cx="1252.5" cy="781.5" r="1.35"/>
<circle cx="1107.5" cy="681.5" r="1.35"/>
<circle cx="1259.5" cy="748.5" r="1.35"/>
<circle cx="1137.5" cy="667.5" r="1.35"/>
<circle cx="1266.5" cy="823.5" r="1.35"/>
<circle cx="1123.5" cy="654.5" r="1.35"/>
<circle cx="1244.5" cy="731.5" r="1.35"/>
<circle cx="1164.5" cy="652.5" r="1.35"/>
<circle cx="1272.5" cy="865.5" r="1.35"/>
<circle cx="1105.5" cy="723.5" r="1.35"/>
<circle cx="1215.5" cy="617.5" r="1.35"/>
<circle cx="1268.5" cy="839.5" r="1.35"/>
<circle cx="1091.5" cy="713.5" r="1.35"/>
<circle cx="1225.5" cy="640.5" r="1.35"/>
<circle cx="1241.5" cy="736.5" r="1.35"/>
<circle cx="1189.5" cy="663.5" r="1.35"/>
<circle cx="1267.5" cy="823.5" r="1.35"/>
<circle cx="1103.5" cy="686.5" r="1.35"/>
<circle cx="1262.5" cy="738.5" r="1.35"/>
<circle cx="1191.5" cy="640.5" r="1.35"/>
<circle cx="1274.5" cy="801.5" r="1.35"/>
<circle cx="1103.5" cy="675.5" r="1.35"/>
<circle cx="1223.5" cy="721.5" r="1.35"/>
<circle cx="1224.5" cy="686.5" r="1.35"/>
<circle cx="1228.5" cy="656.5" r="1.35"/>
<circle cx="1234.5" cy="701.5" r="1.35"/>
<circle cx="1223.5" cy="633.5" r="1.35"/>
<circle cx="1257.5" cy="769.5" r="1.35"/>
<circle cx="1160.5" cy="669.5" r="1.35"/>
<circle cx="1273.5" cy="819.5" r="1.35"/>
<circle cx="1072.5" cy="746.5" r="1.35"/>
<circle cx="1188.5" cy="684.5" r="1.35"/>
<circle cx="1264.5" cy="798.5" r="1.35"/>
<circle cx="1085.5" cy="691.5" r="1.35"/>
<circle cx="1247.5" cy="728.5" r="1.35"/>
<circle cx="1215.5" cy="680.5" r="1.35"/>
<circle cx="1261.5" cy="808.5" r="1.35"/>
<circle cx="1150.5" cy="683.5" r="1.35"/>
<circle cx="1265.5" cy="842.5" r="1.35"/>
<circle cx="1082.5" cy="705.5" r="1.35"/>
<circle cx="1205.5" cy="696.5" r="1.35"/>
<circle cx="1256.5" cy="775.5" r="1.35"/>
<circle cx="1144.5" cy="690.5" r="1.35"/>
<circle cx="1250.5" cy="841.5" r="1.35"/>
<circle cx="1116.5" cy="663.5" r="1.35"/>
<circle cx="1248.5" cy="726.5" r="1.35"/>
<circle cx="1208.5" cy="681.5" r="1.35"/>
<circle cx="1257.5" cy="748.5" r="1.35"/>
<circle cx="1154.5" cy="681.5" r="1.35"/>
<circle cx="1243.5" cy="819.5" r="1.35"/>
<circle cx="1113.5" cy="684.5" r="1.35"/>
<circle cx="1238.5" cy="655.5" r="1.35"/>
<circle cx="1240.5" cy="702.5" r="1.35"/>
<circle cx="1239.5" cy="661.5" r="1.35"/>
<circle cx="1229.5" cy="715.5" r="1.35"/>
<circle cx="1226.5" cy="647.5" r="1.35"/>
<circle cx="1254.5" cy="736.5" r="1.35"/>
<circle cx="1221.5" cy="659.5" r="1.35"/>
<circle cx="1265.5" cy="733.5" r="1.35"/>
<circle cx="1141.5" cy="655.5" r="1.35"/>
<circle cx="1281.5" cy="836.5" r="1.35"/>
<circle cx="1105.5" cy="679.5" r="1.35"/>
<circle cx="1209.5" cy="634.5" r="1.35"/>
<circle cx="1273.5" cy="837.5" r="1.35"/>
<circle cx="1090.5" cy="666.5" r="1.35"/>
<circle cx="1256.5" cy="738.5" r="1.35"/>
<circle cx="1218.5" cy="631.5" r="1.35"/>
<circle cx="1219.5" cy="731.5" r="1.35"/>
<circle cx="1184.5" cy="662.5" r="1.35"/>
<circle cx="1248.5" cy="851.5" r="1.35"/>
<circle cx="1073.5" cy="720.5" r="1.35"/>
<circle cx="1188.5" cy="640.5" r="1.35"/>
<circle cx="1289.5" cy="838.5" r="1.35"/>
<circle cx="1109.5" cy="664.5" r="1.35"/>
<circle cx="1251.5" cy="773.5" r="1.35"/>
<circle cx="1232.5" cy="655.5" r="1.35"/>
<circle cx="1290.5" cy="803.5" r="1.35"/>
<circle cx="1138.5" cy="674.5" r="1.35"/>
<circle cx="1264.5" cy="807.5" r="1.35"/>
<circle cx="1102.5" cy="694.5" r="1.35"/>
<circle cx="1245.5" cy="739.5" r="1.35"/>
<circle cx="1190.5" cy="651.5" r="1.35"/>
<circle cx="1278.5" cy="847.5" r="1.35"/>
<circle cx="1097.5" cy="739.5" r="1.35"/>
<circle cx="1224.5" cy="673.5" r="1.35"/>
<circle cx="1252.5" cy="779.5" r="1.35"/>
<circle cx="1147.5" cy="683.5" r="1.35"/>
<circle cx="1282.5" cy="824.5" r="1.35"/>
<circle cx="1113.5" cy="669.5" r="1.35"/>
<circle cx="1248.5" cy="658.5" r="1.35"/>
<circle cx="1245.5" cy="666.5" r="1.35"/>
<circle cx="1223.5" cy="674.5" r="1.35"/>
<circle cx="1253.5" cy="754.5" r="1.35"/>
<circle cx="1192.5" cy="623.5" r="1.35"/>
<circle cx="1240.5" cy="792.5" r="1.35"/>
<circle cx="1143.5" cy="647.5" r="1.35"/>
<circle cx="1265.5" cy="804.5" r="1.35"/>
<circle cx="1134.5" cy="646.5" r="1.35"/>
<circle cx="1238.5" cy="771.5" r="1.35"/>
<circle cx="1141.5" cy="653.5" r="1.35"/>
<circle cx="1260.5" cy="812.5" r="1.35"/>
<circle cx="1096.5" cy="677.5" r="1.35"/>
<circle cx="1205.5" cy="691.5" r="1.35"/>
<circle cx="1225.5" cy="669.5" r="1.35"/>
<circle cx="1257.5" cy="693.5" r="1.35"/>
<circle cx="1222.5" cy="665.5" r="1.35"/>
<circle cx="1251.5" cy="729.5" r="1.35"/>
<circle cx="1169.5" cy="663.5" r="1.35"/>
<circle cx="1285.5" cy="821.5" r="1.35"/>
<circle cx="1049.5" cy="735.5" r="1.35"/>
<circle cx="1186.5" cy="650.5" r="1.35"/>
<circle cx="1280.5" cy="789.5" r="1.35"/>
<circle cx="1108.5" cy="710.5" r="1.35"/>
<circle cx="1243.5" cy="684.5" r="1.35"/>
<circle cx="1276.5" cy="776.5" r="1.35"/>
<circle cx="1179.5" cy="661.5" r="1.35"/>
<circle cx="1277.5" cy="796.5" r="1.35"/>
<circle cx="1099.5" cy="725.5" r="1.35"/>
<circle cx="1183.5" cy="625.5" r="1.35"/>
<circle cx="1269.5" cy="847.5" r="1.35"/>
<circle cx="1116.5" cy="687.5" r="1.35"/>
<circle cx="1258.5" cy="657.5" r="1.35"/>
<circle cx="1242.5" cy="679.5" r="1.35"/>
<circle cx="1214.5" cy="667.5" r="1.35"/>
<circle cx="1265.5" cy="762.5" r="1.35"/>
<circle cx="1179.5" cy="656.5" r="1.35"/>
<circle cx="1271.5" cy="859.5" r="1.35"/>
<circle cx="1110.5" cy="724.5" r="1.35"/>
<circle cx="1183.5" cy="646.5" r="1.35"/>
<circle cx="1266.5" cy="867.5" r="1.35"/>
<circle cx="1110.5" cy="665.5" r="1.35"/>
<circle cx="1258.5" cy="711.5" r="1.35"/>
<circle cx="1226.5" cy="658.5" r="1.35"/>
<circle cx="1240.5" cy="812.5" r="1.35"/>
<circle cx="1139.5" cy="637.5" r="1.35"/>
<circle cx="1276.5" cy="825.5" r="1.35"/>
<circle cx="1091.5" cy="681.5" r="1.35"/>
<circle cx="1200.5" cy="626.5" r="1.35"/>
<circle cx="1272.5" cy="764.5" r="1.35"/>
<circle cx="1190.5" cy="633.5" r="1.35"/>
<circle cx="1279.5" cy="840.5" r="1.35"/>
<circle cx="1088.5" cy="715.5" r="1.35"/>
<circle cx="1221.5" cy="647.5" r="1.35"/>
<circle cx="1262.5" cy="796.5" r="1.35"/>
<circle cx="1152.5" cy="648.5" r="1.35"/>
<circle cx="1253.5" cy="807.5" r="1.35"/>
<circle cx="1112.5" cy="672.5" r="1.35"/>
<circle cx="1264.5" cy="773.5" r="1.35"/>
<circle cx="1159.5" cy="655.5" r="1.35"/>
<circle cx="1283.5" cy="859.5" r="1.35"/>
<circle cx="1090.5" cy="743.5" r="1.35"/>
<circle cx="1175.5" cy="646.5" r="1.35"/>
<circle cx="1272.5" cy="842.5" r="1.35"/>
<circle cx="1094.5" cy="705.5" r="1.35"/>
<circle cx="1233.5" cy="670.5" r="1.35"/>
<circle cx="1248.5" cy="714.5" r="1.35"/>
<circle cx="1172.5" cy="628.5" r="1.35"/>
<circle cx="1292.5" cy="829.5" r="1.35"/>
<circle cx="1120.5" cy="726.5" r="1.35"/>
<circle cx="1222.5" cy="597.5" r="1.35"/>
<circle cx="1270.5" cy="814.5" r="1.35"/>
<circle cx="1114.5" cy="682.5" r="1.35"/>
<circle cx="1265.5" cy="705.5" r="1.35"/>
<circle cx="1218.5" cy="650.5" r="1.35"/>
<circle cx="1242.5" cy="727.5" r="1.35"/>
<circle cx="1180.5" cy="652.5" r="1.35"/>
<circle cx="1279.5" cy="795.5" r="1.35"/>
<circle cx="1079.5" cy="742.5" r="1.35"/>
<circle cx="1174.5" cy="627.5" r="1.35"/>
<circle cx="1246.5" cy="840.5" r="1.35"/>
<circle cx="1122.5" cy="641.5" r="1.35"/>
<circle cx="1235.5" cy="730.5" r="1.35"/>
<circle cx="1209.5" cy="650.5" r="1.35"/>
<circle cx="1267.5" cy="764.5" r="1.35"/>
<circle cx="1159.5" cy="641.5" r="1.35"/>
<circle cx="1265.5" cy="852.5" r="1.35"/>
<circle cx="1107.5" cy="707.5" r="1.35"/>
<circle cx="1210.5" cy="692.5" r="1.35"/>
<circle cx="1248.5" cy="745.5" r="1.35"/>
<circle cx="1175.5" cy="646.5" r="1.35"/>
<circle cx="1289.5" cy="836.5" r="1.35"/>
<circle cx="1101.5" cy="712.5" r="1.35"/>
<circle cx="1214.5" cy="671.5" r="1.35"/>
<circle cx="1246.5" cy="758.5" r="1.35"/>
<circle cx="1192.5" cy="630.5" r="1.35"/>
<circle cx="1280.5" cy="789.5" r="1.35"/>
<circle cx="1090.5" cy="717.5" r="1.35"/>
<circle cx="1228.5" cy="717.5" r="1.35"/>
<circle cx="1212.5" cy="664.5" r="1.35"/>
<circle cx="1298.5" cy="753.5" r="1.35"/>
<circle cx="1185.5" cy="676.5" r="1.35"/>
<circle cx="1271.5" cy="844.5" r="1.35"/>
<circle cx="1096.5" cy="754.5" r="1.35"/>
<circle cx="1215.5" cy="632.5" r="1.35"/>
<circle cx="1267.5" cy="828.5" r="1.35"/>
<circle cx="1094.5" cy="705.5" r="1.35"/>
<circle cx="1237.5" cy="649.5" r="1.35"/>
<circle cx="1264.5" cy="762.5" r="1.35"/>
<circle cx="1189.5" cy="680.5" r="1.35"/>
<circle cx="1264.5" cy="825.5" r="1.35"/>
<circle cx="1117.5" cy="715.5" r="1.35"/>
<circle cx="1222.5" cy="643.5" r="1.35"/>
<circle cx="1277.5" cy="794.5" r="1.35"/>
<circle cx="1127.5" cy="648.5" r="1.35"/>
<circle cx="1222.5" cy="769.5" r="1.35"/>
<circle cx="1200.5" cy="658.5" r="1.35"/>
<circle cx="1267.5" cy="794.5" r="1.35"/>
<circle cx="1111.5" cy="663.5" r="1.35"/>
<circle cx="1242.5" cy="696.5" r="1.35"/>
<circle cx="1236.5" cy="733.5" r="1.35"/>
<circle cx="1200.5" cy="676.5" r="1.35"/>
<circle cx="1258.5" cy="755.5" r="1.35"/>
<circle cx="1183.5" cy="674.5" r="1.35"/>
<circle cx="1264.5" cy="823.5" r="1.35"/>
<circle cx="1099.5" cy="713.5" r="1.35"/>
<circle cx="1231.5" cy="717.5" r="1.35"/>
<circle cx="1201.5" cy="666.5" r="1.35"/>
<circle cx="1254.5" cy="708.5" r="1.35"/>
<circle cx="1237.5" cy="684.5" r="1.35"/>
<circle cx="1255.5" cy="686.5" r="1.35"/>
<circle cx="1257.5" cy="650.5" r="1.35"/>
<circle cx="1247.5" cy="734.5" r="1.35"/>
<circle cx="1184.5" cy="646.5" r="1.35"/>
<circle cx="1251.5" cy="808.5" r="1.35"/>
<circle cx="1127.5" cy="636.5" r="1.35"/>
<circle cx="1261.5" cy="806.5" r="1.35"/>
<circle cx="1114.5" cy="699.5" r="1.35"/>
<circle cx="1215.5" cy="720.5" r="1.35"/>
<circle cx="1218.5" cy="635.5" r="1.35"/>
<circle cx="1239.5" cy="768.5" r="1.35"/>
<circle cx="1161.5" cy="629.5" r="1.35"/>
<circle cx="1270.5" cy="808.5" r="1.35"/>
<circle cx="1089.5" cy="727.5" r="1.35"/>
<circle cx="1203.5" cy="645.5" r="1.35"/>
<circle cx="1258.5" cy="830.5" r="1.35"/>
<circle cx="1122.5" cy="663.5" r="1.35"/>
<circle cx="1238.5" cy="788.5" r="1.35"/>
<circle cx="1143.5" cy="618.5" r="1.35"/>
<circle cx="1298.5" cy="817.5" r="1.35"/>
<circle cx="1139.5" cy="719.5" r="1.35"/>
<circle cx="1264.5" cy="734.5" r="1.35"/>
<circle cx="1224.5" cy="649.5" r="1.35"/>
<circle cx="1252.5" cy="801.5" r="1.35"/>
<circle cx="1180.5" cy="677.5" r="1.35"/>
<circle cx="1271.5" cy="846.5" r="1.35"/>
<circle cx="1089.5" cy="717.5" r="1.35"/>
<circle cx="1193.5" cy="644.5" r="1.35"/>
<circle cx="1270.5" cy="837.5" r="1.35"/>
<circle cx="1107.5" cy="661.5" r="1.35"/>
<circle cx="1245.5" cy="737.5" r="1.35"/>
<circle cx="1195.5" cy="658.5" r="1.35"/>
<circle cx="1258.5" cy="818.5" r="1.35"/>
<circle cx="1177.5" cy="680.5" r="1.35"/>
<circle cx="1268.5" cy="810.5" r="1.35"/>
<circle cx="1104.5" cy="718.5" r="1.35"/>
<circle cx="1245.5" cy="696.5" r="1.35"/>
<circle cx="1242.5" cy="663.5" r="1.35"/>
<circle cx="1225.5" cy="715.5" r="1.35"/>
<circle cx="1221.5" cy="656.5" r="1.35"/>
<circle cx="1267.5" cy="769.5" r="1.35"/>
<circle cx="1196.5" cy="617.5" r="1.35"/>
<circle cx="1272.5" cy="802.5" r="1.35"/>
<circle cx="1126.5" cy="685.5" r="1.35"/>
<circle cx="1223.5" cy="722.5" r="1.35"/>
<circle cx="1240.5" cy="724.5" r="1.35"/>
<circle cx="1221.5" cy="646.5" r="1.35"/>
<circle cx="1270.5" cy="690.5" r="1.35"/>
<circle cx="1181.5" cy="639.5" r="1.35"/>
<circle cx="1255.5" cy="768.5" r="1.35"/>
<circle cx="1132.5" cy="680.5" r="1.35"/>
<circle cx="1278.5" cy="817.5" r="1.35"/>
<circle cx="1128.5" cy="671.5" r="1.35"/>
<circle cx="1277.5" cy="745.5" r="1.35"/>
<circle cx="1161.5" cy="678.5" r="1.35"/>
<circle cx="1284.5" cy="817.5" r="1.35"/>
<circle cx="1089.5" cy="690.5" r="1.35"/>
<circle cx="1195.5" cy="667.5" r="1.35"/>
<circle cx="1275.5" cy="833.5" r="1.35"/>
<circle cx="1116.5" cy="662.5" r="1.35"/>
<circle cx="1231.5" cy="799.5" r="1.35"/>
<circle cx="1144.5" cy="707.5" r="1.35"/>
<circle cx="1246.5" cy="811.5" r="1.35"/>
<circle cx="1093.5" cy="693.5" r="1.35"/>
<circle cx="1232.5" cy="677.5" r="1.35"/>
<circle cx="1254.5" cy="687.5" r="1.35"/>
<circle cx="1225.5" cy="640.5" r="1.35"/>
<circle cx="1264.5" cy="822.5" r="1.35"/>
<circle cx="1107.5" cy="666.5" r="1.35"/>
<circle cx="1252.5" cy="804.5" r="1.35"/>
<circle cx="1141.5" cy="677.5" r="1.35"/>
<circle cx="1251.5" cy="824.5" r="1.35"/>
<circle cx="1103.5" cy="718.5" r="1.35"/>
<circle cx="1206.5" cy="662.5" r="1.35"/>
<circle cx="1231.5" cy="737.5" r="1.35"/>
<circle cx="1172.5" cy="646.5" r="1.35"/>
<circle cx="1270.5" cy="823.5" r="1.35"/>
<circle cx="1093.5" cy="717.5" r="1.35"/>
<circle cx="1194.5" cy="633.5" r="1.35"/>
<circle cx="1280.5" cy="794.5" r="1.35"/>
<circle cx="1107.5" cy="689.5" r="1.35"/>
<circle cx="1252.5" cy="644.5" r="1.35"/>
<circle cx="1243.5" cy="714.5" r="1.35"/>
<circle cx="1239.5" cy="688.5" r="1.35"/>
<circle cx="1245.5" cy="732.5" r="1.35"/>
<circle cx="1207.5" cy="675.5" r="1.35"/>
<circle cx="1245.5" cy="718.5" r="1.35"/>
<circle cx="1203.5" cy="614.5" r="1.35"/>
<circle cx="1269.5" cy="812.5" r="1.35"/>
<circle cx="1117.5" cy="668.5" r="1.35"/>
<circle cx="1292.5" cy="812.5" r="1.35"/>
<circle cx="1131.5" cy="682.5" r="1.35"/>
<circle cx="1245.5" cy="813.5" r="1.35"/>
<circle cx="1124.5" cy="665.5" r="1.35"/>
<circle cx="1265.5" cy="860.5" r="1.35"/>
<circle cx="1105.5" cy="686.5" r="1.35"/>
<circle cx="1224.5" cy="687.5" r="1.35"/>
<circle cx="1237.5" cy="706.5" r="1.35"/>
<circle cx="1224.5" cy="707.5" r="1.35"/>
<circle cx="1246.5" cy="729.5" r="1.35"/>
<circle cx="1219.5" cy="630.5" r="1.35"/>
<circle cx="1244.5" cy="749.5" r="1.35"/>
<circle cx="1228.5" cy="617.5" r="1.35"/>
<circle cx="1302.5" cy="761.5" r="1.35"/>
<circle cx="1148.5" cy="667.5" r="1.35"/>
<circle cx="1265.5" cy="862.5" r="1.35"/>
<circle cx="1078.5" cy="704.5" r="1.35"/>
<circle cx="1205.5" cy="607.5" r="1.35"/>
<circle cx="1251.5" cy="840.5" r="1.35"/>
<circle cx="1104.5" cy="687.5" r="1.35"/>
<circle cx="1241.5" cy="684.5" r="1.35"/>
<circle cx="1209.5" cy="653.5" r="1.35"/>
<circle cx="1239.5" cy="703.5" r="1.35"/>
<circle cx="1183.5" cy="655.5" r="1.35"/>
<circle cx="1237.5" cy="817.5" r="1.35"/>
<circle cx="1082.5" cy="722.5" r="1.35"/>
<circle cx="1220.5" cy="615.5" r="1.35"/>
<circle cx="1252.5" cy="753.5" r="1.35"/>
<circle cx="1198.5" cy="687.5" r="1.35"/>
<circle cx="1239.5" cy="814.5" r="1.35"/>
<circle cx="1115.5" cy="673.5" r="1.35"/>
<circle cx="1270.5" cy="718.5" r="1.35"/>
<circle cx="1184.5" cy="660.5" r="1.35"/>
<circle cx="1271.5" cy="840.5" r="1.35"/>
<circle cx="1076.5" cy="716.5" r="1.35"/>
<circle cx="1200.5" cy="612.5" r="1.35"/>
<circle cx="1261.5" cy="827.5" r="1.35"/>
<circle cx="1090.5" cy="670.5" r="1.35"/>
<circle cx="1221.5" cy="670.5" r="1.35"/>
<circle cx="1261.5" cy="708.5" r="1.35"/>
<circle cx="1231.5" cy="665.5" r="1.35"/>
<circle cx="1265.5" cy="730.5" r="1.35"/>
<circle cx="1199.5" cy="663.5" r="1.35"/>
<circle cx="1281.5" cy="775.5" r="1.35"/>
<circle cx="1125.5" cy="694.5" r="1.35"/>
<circle cx="1263.5" cy="773.5" r="1.35"/>
<circle cx="1169.5" cy="650.5" r="1.35"/>
<circle cx="1279.5" cy="807.5" r="1.35"/>
<circle cx="1121.5" cy="683.5" r="1.35"/>
<circle cx="1262.5" cy="789.5" r="1.35"/>
<circle cx="1155.5" cy="656.5" r="1.35"/>
<circle cx="1290.5" cy="814.5" r="1.35"/>
<circle cx="1095.5" cy="693.5" r="1.35"/>
<circle cx="1200.5" cy="639.5" r="1.35"/>
<circle cx="1248.5" cy="755.5" r="1.35"/>
<circle cx="1195.5" cy="637.5" r="1.35"/>
<circle cx="1271.5" cy="854.5" r="1.35"/>
<circle cx="1127.5" cy="667.5" r="1.35"/>
<circle cx="1245.5" cy="702.5" r="1.35"/>
<circle cx="1236.5" cy="671.5" r="1.35"/>
<circle cx="1235.5" cy="717.5" r="1.35"/>
<circle cx="1206.5" cy="628.5" r="1.35"/>
<circle cx="1303.5" cy="880.5" r="1.35"/>
<circle cx="1120.5" cy="681.5" r="1.35"/>
<circle cx="1244.5" cy="738.5" r="1.35"/>
<circle cx="1227.5" cy="638.5" r="1.35"/>
<circle cx="1279.5" cy="687.5" r="1.35"/>
<circle cx="1183.5" cy="652.5" r="1.35"/>
<circle cx="1267.5" cy="819.5" r="1.35"/>
<circle cx="1117.5" cy="685.5" r="1.35"/>
<circle cx="1253.5" cy="703.5" r="1.35"/>
<circle cx="1215.5" cy="643.5" r="1.35"/>
<circle cx="1261.5" cy="726.5" r="1.35"/>
<circle cx="1178.5" cy="668.5" r="1.35"/>
<circle cx="1274.5" cy="804.5" r="1.35"/>
<circle cx="1091.5" cy="736.5" r="1.35"/>
<circle cx="1188.5" cy="637.5" r="1.35"/>
<circle cx="1266.5" cy="782.5" r="1.35"/>
<circle cx="1139.5" cy="655.5" r="1.35"/>
<circle cx="1248.5" cy="800.5" r="1.35"/>
<circle cx="1151.5" cy="675.5" r="1.35"/>
<circle cx="1282.5" cy="843.5" r="1.35"/>
<circle cx="1081.5" cy="712.5" r="1.35"/>
<circle cx="1213.5" cy="623.5" r="1.35"/>
<circle cx="1248.5" cy="814.5" r="1.35"/>
<circle cx="1163.5" cy="657.5" r="1.35"/>
<circle cx="1307.5" cy="813.5" r="1.35"/>
<circle cx="1132.5" cy="680.5" r="1.35"/>
<circle cx="1229.5" cy="669.5" r="1.35"/>
<circle cx="1251.5" cy="671.5" r="1.35"/>
<circle cx="1227.5" cy="651.5" r="1.35"/>
<circle cx="1253.5" cy="723.5" r="1.35"/>
<circle cx="1216.5" cy="630.5" r="1.35"/>
<circle cx="1248.5" cy="783.5" r="1.35"/>
<circle cx="1126.5" cy="716.5" r="1.35"/>
<circle cx="1243.5" cy="687.5" r="1.35"/>
<circle cx="1236.5" cy="659.5" r="1.35"/>
<circle cx="1264.5" cy="773.5" r="1.35"/>
<circle cx="1159.5" cy="678.5" r="1.35"/>
<circle cx="1277.5" cy="879.5" r="1.35"/>
<circle cx="1097.5" cy="740.5" r="1.35"/>
<circle cx="1188.5" cy="658.5" r="1.35"/>
<circle cx="1279.5" cy="820.5" r="1.35"/>
<circle cx="1092.5" cy="732.5" r="1.35"/>
<circle cx="1190.5" cy="624.5" r="1.35"/>
<circle cx="1271.5" cy="752.5" r="1.35"/>
<circle cx="1187.5" cy="657.5" r="1.35"/>
<circle cx="1274.5" cy="853.5" r="1.35"/>
<circle cx="1090.5" cy="742.5" r="1.35"/>
<circle cx="1208.5" cy="664.5" r="1.35"/>
<circle cx="1262.5" cy="833.5" r="1.35"/>
<circle cx="1100.5" cy="682.5" r="1.35"/>
<circle cx="1238.5" cy="710.5" r="1.35"/>
<circle cx="1241.5" cy="694.5" r="1.35"/>
<circle cx="1231.5" cy="748.5" r="1.35"/>
<circle cx="1210.5" cy="659.5" r="1.35"/>
<circle cx="1259.5" cy="818.5" r="1.35"/>
<circle cx="1095.5" cy="646.5" r="1.35"/>
<circle cx="1259.5" cy="691.5" r="1.35"/>
<circle cx="1224.5" cy="670.5" r="1.35"/>
<circle cx="1232.5" cy="777.5" r="1.35"/>
<circle cx="1191.5" cy="669.5" r="1.35"/>
<circle cx="1284.5" cy="854.5" r="1.35"/>
<circle cx="1129.5" cy="662.5" r="1.35"/>
<circle cx="1240.5" cy="741.5" r="1.35"/>
<circle cx="1216.5" cy="647.5" r="1.35"/>
<circle cx="1275.5" cy="798.5" r="1.35"/>
<circle cx="1141.5" cy="663.5" r="1.35"/>
<circle cx="1276.5" cy="799.5" r="1.35"/>
<circle cx="1102.5" cy="710.5" r="1.35"/>
<circle cx="1220.5" cy="674.5" r="1.35"/>
<circle cx="1241.5" cy="750.5" r="1.35"/>
<circle cx="1205.5" cy="625.5" r="1.35"/>
<circle cx="1267.5" cy="825.5" r="1.35"/>
<circle cx="1123.5" cy="689.5" r="1.35"/>
<circle cx="1258.5" cy="820.5" r="1.35"/>
<circle cx="1158.5" cy="693.5" r="1.35"/>
<circle cx="1272.5" cy="810.5" r="1.35"/>
<circle cx="1124.5" cy="628.5" r="1.35"/>
<circle cx="1262.5" cy="740.5" r="1.35"/>
<circle cx="1223.5" cy="631.5" r="1.35"/>
<circle cx="1297.5" cy="767.5" r="1.35"/>
<circle cx="1152.5" cy="680.5" r="1.35"/>
<circle cx="1285.5" cy="845.5" r="1.35"/>
<circle cx="1084.5" cy="733.5" r="1.35"/>
<circle cx="1217.5" cy="656.5" r="1.35"/>
<circle cx="1297.5" cy="785.5" r="1.35"/>
<circle cx="1080.5" cy="727.5" r="1.35"/>
<circle cx="1220.5" cy="677.5" r="1.35"/>
<circle cx="1247.5" cy="687.5" r="1.35"/>
<circle cx="1243.5" cy="691.5" r="1.35"/>
<circle cx="1252.5" cy="705.5" r="1.35"/>
<circle cx="1221.5" cy="639.5" r="1.35"/>
<circle cx="1261.5" cy="746.5" r="1.35"/>
<circle cx="1196.5" cy="637.5" r="1.35"/>
<circle cx="1270.5" cy="817.5" r="1.35"/>
<circle cx="1113.5" cy="744.5" r="1.35"/>
<circle cx="1187.5" cy="623.5" r="1.35"/>
<circle cx="1268.5" cy="711.5" r="1.35"/>
<circle cx="1162.5" cy="637.5" r="1.35"/>
<circle cx="1288.5" cy="819.5" r="1.35"/>
<circle cx="1085.5" cy="758.5" r="1.35"/>
<circle cx="1179.5" cy="645.5" r="1.35"/>
<circle cx="1276.5" cy="843.5" r="1.35"/>
<circle cx="1092.5" cy="704.5" r="1.35"/>
<circle cx="1217.5" cy="653.5" r="1.35"/>
<circle cx="1220.5" cy="732.5" r="1.35"/>
<circle cx="1218.5" cy="658.5" r="1.35"/>
<circle cx="1267.5" cy="804.5" r="1.35"/>
<circle cx="1187.5" cy="660.5" r="1.35"/>
<circle cx="1270.5" cy="839.5" r="1.35"/>
<circle cx="1101.5" cy="746.5" r="1.35"/>
<circle cx="1189.5" cy="658.5" r="1.35"/>
<circle cx="1269.5" cy="791.5" r="1.35"/>
<circle cx="1108.5" cy="724.5" r="1.35"/>
<circle cx="1238.5" cy="684.5" r="1.35"/>
<circle cx="1248.5" cy="765.5" r="1.35"/>
<circle cx="1186.5" cy="621.5" r="1.35"/>
<circle cx="1268.5" cy="785.5" r="1.35"/>
<circle cx="1103.5" cy="690.5" r="1.35"/>
<circle cx="1214.5" cy="681.5" r="1.35"/>
<circle cx="1265.5" cy="744.5" r="1.35"/>
<circle cx="1197.5" cy="620.5" r="1.35"/>
<circle cx="1274.5" cy="828.5" r="1.35"/>
<circle cx="1114.5" cy="641.5" r="1.35"/>
<circle cx="1268.5" cy="743.5" r="1.35"/>
<circle cx="1167.5" cy="660.5" r="1.35"/>
<circle cx="1265.5" cy="826.5" r="1.35"/>
<circle cx="1117.5" cy="711.5" r="1.35"/>
<circle cx="1199.5" cy="611.5" r="1.35"/>
<circle cx="1298.5" cy="844.5" r="1.35"/>
<circle cx="1122.5" cy="660.5" r="1.35"/>
<circle cx="1230.5" cy="710.5" r="1.35"/>
<circle cx="1222.5" cy="684.5" r="1.35"/>
<circle cx="1255.5" cy="729.5" r="1.35"/>
<circle cx="1206.5" cy="648.5" r="1.35"/>
<circle cx="1267.5" cy="822.5" r="1.35"/>
<circle cx="1128.5" cy="698.5" r="1.35"/>
<circle cx="1237.5" cy="815.5" r="1.35"/>
<circle cx="1136.5" cy="642.5" r="1.35"/>
<circle cx="1232.5" cy="771.5" r="1.35"/>
<circle cx="1126.5" cy="658.5" r="1.35"/>
<circle cx="1247.5" cy="734.5" r="1.35"/>
<circle cx="1166.5" cy="664.5" r="1.35"/>
<circle cx="1269.5" cy="841.5" r="1.35"/>
<circle cx="1092.5" cy="723.5" r="1.35"/>
<circle cx="1172.5" cy="664.5" r="1.35"/>
<circle cx="1242.5" cy="846.5" r="1.35"/>
<circle cx="1091.5" cy="689.5" r="1.35"/>
<circle cx="1203.5" cy="688.5" r="1.35"/>
<circle cx="1226.5" cy="727.5" r="1.35"/>
<circle cx="1249.5" cy="655.5" r="1.35"/>
<circle cx="1234.5" cy="743.5" r="1.35"/>
<circle cx="1209.5" cy="620.5" r="1.35"/>
<circle cx="1246.5" cy="812.5" r="1.35"/>
<circle cx="1125.5" cy="676.5" r="1.35"/>
<circle cx="1253.5" cy="755.5" r="1.35"/>
<circle cx="1177.5" cy="656.5" r="1.35"/>
<circle cx="1281.5" cy="852.5" r="1.35"/>
<circle cx="1113.5" cy="734.5" r="1.35"/>
<circle cx="1197.5" cy="626.5" r="1.35"/>
<circle cx="1271.5" cy="808.5" r="1.35"/>
<circle cx="1097.5" cy="656.5" r="1.35"/>
<circle cx="1250.5" cy="745.5" r="1.35"/>
<circle cx="1220.5" cy="669.5" r="1.35"/>
<circle cx="1266.5" cy="756.5" r="1.35"/>
<circle cx="1189.5" cy="640.5" r="1.35"/>
<circle cx="1298.5" cy="837.5" r="1.35"/>
<circle cx="1076.5" cy="706.5" r="1.35"/>
<circle cx="1223.5" cy="648.5" r="1.35"/>
<circle cx="1262.5" cy="728.5" r="1.35"/>
<circle cx="1199.5" cy="668.5" r="1.35"/>
<circle cx="1254.5" cy="776.5" r="1.35"/>
<circle cx="1126.5" cy="649.5" r="1.35"/>
<circle cx="1243.5" cy="800.5" r="1.35"/>
<circle cx="1148.5" cy="651.5" r="1.35"/>
<circle cx="1309.5" cy="840.5" r="1.35"/>
<circle cx="1122.5" cy="666.5" r="1.35"/>
<circle cx="1218.5" cy="691.5" r="1.35"/>
<circle cx="1224.5" cy="711.5" r="1.35"/>
<circle cx="1227.5" cy="690.5" r="1.35"/>
<circle cx="1254.5" cy="719.5" r="1.35"/>
<circle cx="1216.5" cy="662.5" r="1.35"/>
<circle cx="1238.5" cy="727.5" r="1.35"/>
<circle cx="1218.5" cy="643.5" r="1.35"/>
<circle cx="1279.5" cy="812.5" r="1.35"/>
<circle cx="1128.5" cy="736.5" r="1.35"/>
<circle cx="1248.5" cy="797.5" r="1.35"/>
<circle cx="1114.5" cy="703.5" r="1.35"/>
<circle cx="1255.5" cy="798.5" r="1.35"/>
<circle cx="1101.5" cy="647.5" r="1.35"/>
<circle cx="1276.5" cy="786.5" r="1.35"/>
<circle cx="1134.5" cy="675.5" r="1.35"/>
<circle cx="1276.5" cy="821.5" r="1.35"/>
<circle cx="1139.5" cy="677.5" r="1.35"/>
<circle cx="1265.5" cy="742.5" r="1.35"/>
<circle cx="1190.5" cy="657.5" r="1.35"/>
<circle cx="1279.5" cy="818.5" r="1.35"/>
<circle cx="1151.5" cy="646.5" r="1.35"/>
<circle cx="1255.5" cy="805.5" r="1.35"/>
<circle cx="1116.5" cy="650.5" r="1.35"/>
<circle cx="1262.5" cy="792.5" r="1.35"/>
<circle cx="1126.5" cy="664.5" r="1.35"/>
<circle cx="1293.5" cy="829.5" r="1.35"/>
<circle cx="1073.5" cy="681.5" r="1.35"/>
<circle cx="1217.5" cy="662.5" r="1.35"/>
<circle cx="1236.5" cy="697.5" r="1.35"/>
<circle cx="1223.5" cy="680.5" r="1.35"/>
<circle cx="1252.5" cy="753.5" r="1.35"/>
<circle cx="1205.5" cy="608.5" r="1.35"/>
<circle cx="1264.5" cy="815.5" r="1.35"/>
<circle cx="1139.5" cy="675.5" r="1.35"/>
<circle cx="1228.5" cy="738.5" r="1.35"/>
<circle cx="1166.5" cy="642.5" r="1.35"/>
<circle cx="1261.5" cy="830.5" r="1.35"/>
<circle cx="1089.5" cy="740.5" r="1.35"/>
<circle cx="1192.5" cy="599.5" r="1.35"/>
<circle cx="1256.5" cy="821.5" r="1.35"/>
<circle cx="1092.5" cy="688.5" r="1.35"/>
<circle cx="1235.5" cy="665.5" r="1.35"/>
<circle cx="1258.5" cy="776.5" r="1.35"/>
<circle cx="1183.5" cy="669.5" r="1.35"/>
<circle cx="1303.5" cy="817.5" r="1.35"/>
<circle cx="1136.5" cy="683.5" r="1.35"/>
<circle cx="1211.5" cy="686.5" r="1.35"/>
<circle cx="1245.5" cy="730.5" r="1.35"/>
<circle cx="1261.5" cy="697.5" r="1.35"/>
<circle cx="1262.5" cy="746.5" r="1.35"/>
<circle cx="1202.5" cy="670.5" r="1.35"/>
<circle cx="1265.5" cy="796.5" r="1.35"/>
<circle cx="1111.5" cy="649.5" r="1.35"/>
<circle cx="1250.5" cy="684.5" r="1.35"/>
<circle cx="1183.5" cy="626.5" r="1.35"/>
<circle cx="1282.5" cy="839.5" r="1.35"/>
<circle cx="1098.5" cy="710.5" r="1.35"/>
<circle cx="1224.5" cy="753.5" r="1.35"/>
<circle cx="1226.5" cy="730.5" r="1.35"/>
<circle cx="1215.5" cy="657.5" r="1.35"/>
<circle cx="1248.5" cy="749.5" r="1.35"/>
<circle cx="1163.5" cy="650.5" r="1.35"/>
<circle cx="1289.5" cy="828.5" r="1.35"/>
<circle cx="1092.5" cy="727.5" r="1.35"/>
<circle cx="1196.5" cy="632.5" r="1.35"/>
<circle cx="1276.5" cy="799.5" r="1.35"/>
<circle cx="1102.5" cy="720.5" r="1.35"/>
<circle cx="1222.5" cy="672.5" r="1.35"/>
<circle cx="1248.5" cy="775.5" r="1.35"/>
<circle cx="1203.5" cy="610.5" r="1.35"/>
<circle cx="1252.5" cy="797.5" r="1.35"/>
<circle cx="1125.5" cy="673.5" r="1.35"/>
<circle cx="1235.5" cy="715.5" r="1.35"/>
<circle cx="1225.5" cy="686.5" r="1.35"/>
<circle cx="1228.5" cy="692.5" r="1.35"/>
<circle cx="1226.5" cy="690.5" r="1.35"/>
<circle cx="1236.5" cy="687.5" r="1.35"/>
<circle cx="1228.5" cy="687.5" r="1.35"/>
<circle cx="1245.5" cy="680.5" r="1.35"/>
<circle cx="1234.5" cy="703.5" r="1.35"/>
<circle cx="1181.5" cy="644.5" r="1.35"/>
<circle cx="1252.5" cy="787.5" r="1.35"/>
<circle cx="1127.5" cy="665.5" r="1.35"/>
<circle cx="1270.5" cy="842.5" r="1.35"/>
<circle cx="1111.5" cy="692.5" r="1.35"/>
<circle cx="1222.5" cy="656.5" r="1.35"/>
<circle cx="1242.5" cy="771.5" r="1.35"/>
<circle cx="1147.5" cy="669.5" r="1.35"/>
<circle cx="1300.5" cy="866.5" r="1.35"/>
<circle cx="1097.5" cy="698.5" r="1.35"/>
<circle cx="1204.5" cy="665.5" r="1.35"/>
<circle cx="1283.5" cy="791.5" r="1.35"/>
<circle cx="1161.5" cy="660.5" r="1.35"/>
<circle cx="1284.5" cy="820.5" r="1.35"/>
<circle cx="1151.5" cy="682.5" r="1.35"/>
<circle cx="1276.5" cy="838.5" r="1.35"/>
<circle cx="1111.5" cy="712.5" r="1.35"/>
<circle cx="1219.5" cy="695.5" r="1.35"/>
<circle cx="1232.5" cy="712.5" r="1.35"/>
<circle cx="1208.5" cy="650.5" r="1.35"/>
<circle cx="1250.5" cy="788.5" r="1.35"/>
<circle cx="1137.5" cy="676.5" r="1.35"/>
<circle cx="1269.5" cy="803.5" r="1.35"/>
<circle cx="1155.5" cy="683.5" r="1.35"/>
<circle cx="1248.5" cy="769.5" r="1.35"/>
<circle cx="1165.5" cy="651.5" r="1.35"/>
<circle cx="1270.5" cy="840.5" r="1.35"/>
<circle cx="1093.5" cy="741.5" r="1.35"/>
<circle cx="1202.5" cy="666.5" r="1.35"/>
<circle cx="1263.5" cy="827.5" r="1.35"/>
<circle cx="1089.5" cy="694.5" r="1.35"/>
<circle cx="1198.5" cy="664.5" r="1.35"/>
<circle cx="1242.5" cy="769.5" r="1.35"/>
<circle cx="1191.5" cy="638.5" r="1.35"/>
<circle cx="1272.5" cy="784.5" r="1.35"/>
<circle cx="1081.5" cy="719.5" r="1.35"/>
<circle cx="1203.5" cy="639.5" r="1.35"/>
<circle cx="1265.5" cy="785.5" r="1.35"/>
<circle cx="1147.5" cy="716.5" r="1.35"/>
<circle cx="1259.5" cy="812.5" r="1.35"/>
<circle cx="1114.5" cy="685.5" r="1.35"/>
<circle cx="1225.5" cy="714.5" r="1.35"/>
<circle cx="1177.5" cy="648.5" r="1.35"/>
<circle cx="1296.5" cy="841.5" r="1.35"/>
<circle cx="1076.5" cy="693.5" r="1.35"/>
<circle cx="1229.5" cy="681.5" r="1.35"/>
<circle cx="1241.5" cy="709.5" r="1.35"/>
<circle cx="1225.5" cy="677.5" r="1.35"/>
<circle cx="1231.5" cy="744.5" r="1.35"/>
<circle cx="1218.5" cy="661.5" r="1.35"/>
<circle cx="1259.5" cy="744.5" r="1.35"/>
<circle cx="1174.5" cy="620.5" r="1.35"/>
<circle cx="1242.5" cy="826.5" r="1.35"/>
<circle cx="1086.5" cy="725.5" r="1.35"/>
<circle cx="1179.5" cy="621.5" r="1.35"/>
<circle cx="1261.5" cy="807.5" r="1.35"/>
<circle cx="1106.5" cy="662.5" r="1.35"/>
<circle cx="1237.5" cy="643.5" r="1.35"/>
<circle cx="1261.5" cy="730.5" r="1.35"/>
<circle cx="1201.5" cy="640.5" r="1.35"/>
<circle cx="1280.5" cy="791.5" r="1.35"/>
<circle cx="1155.5" cy="663.5" r="1.35"/>
<circle cx="1286.5" cy="809.5" r="1.35"/>
<circle cx="1138.5" cy="686.5" r="1.35"/>
<circle cx="1254.5" cy="799.5" r="1.35"/>
<circle cx="1181.5" cy="661.5" r="1.35"/>
<circle cx="1285.5" cy="876.5" r="1.35"/>
<circle cx="1076.5" cy="712.5" r="1.35"/>
<circle cx="1210.5" cy="646.5" r="1.35"/>
<circle cx="1257.5" cy="830.5" r="1.35"/>
<circle cx="1135.5" cy="656.5" r="1.35"/>
<circle cx="1240.5" cy="795.5" r="1.35"/>
<circle cx="1108.5" cy="669.5" r="1.35"/>
<circle cx="1256.5" cy="717.5" r="1.35"/>
<circle cx="1195.5" cy="613.5" r="1.35"/>
<circle cx="1287.5" cy="860.5" r="1.35"/>
<circle cx="1093.5" cy="694.5" r="1.35"/>
<circle cx="1203.5" cy="635.5" r="1.35"/>
<circle cx="1253.5" cy="790.5" r="1.35"/>
<circle cx="1140.5" cy="651.5" r="1.35"/>
<circle cx="1262.5" cy="818.5" r="1.35"/>
<circle cx="1138.5" cy="679.5" r="1.35"/>
<circle cx="1292.5" cy="808.5" r="1.35"/>
<circle cx="1143.5" cy="681.5" r="1.35"/>
<circle cx="1245.5" cy="822.5" r="1.35"/>
<circle cx="1100.5" cy="707.5" r="1.35"/>
<circle cx="1222.5" cy="739.5" r="1.35"/>
<circle cx="1200.5" cy="641.5" r="1.35"/>
<circle cx="1281.5" cy="769.5" r="1.35"/>
<circle cx="1171.5" cy="654.5" r="1.35"/>
<circle cx="1248.5" cy="879.5" r="1.35"/>
<circle cx="1096.5" cy="748.5" r="1.35"/>
<circle cx="1205.5" cy="656.5" r="1.35"/>
<circle cx="1265.5" cy="830.5" r="1.35"/>
<circle cx="1090.5" cy="714.5" r="1.35"/>
<circle cx="1215.5" cy="636.5" r="1.35"/>
<circle cx="1261.5" cy="757.5" r="1.35"/>
<circle cx="1189.5" cy="651.5" r="1.35"/>
<circle cx="1291.5" cy="837.5" r="1.35"/>
<circle cx="1108.5" cy="707.5" r="1.35"/>
<circle cx="1215.5" cy="650.5" r="1.35"/>
<circle cx="1290.5" cy="791.5" r="1.35"/>
<circle cx="1126.5" cy="663.5" r="1.35"/>
<circle cx="1230.5" cy="742.5" r="1.35"/>
<circle cx="1190.5" cy="642.5" r="1.35"/>
<circle cx="1275.5" cy="815.5" r="1.35"/>
<circle cx="1100.5" cy="670.5" r="1.35"/>
<circle cx="1246.5" cy="660.5" r="1.35"/>
<circle cx="1234.5" cy="693.5" r="1.35"/>
<circle cx="1214.5" cy="645.5" r="1.35"/>
<circle cx="1270.5" cy="730.5" r="1.35"/>
<circle cx="1213.5" cy="617.5" r="1.35"/>
<circle cx="1270.5" cy="805.5" r="1.35"/>
<circle cx="1141.5" cy="707.5" r="1.35"/>
<circle cx="1281.5" cy="758.5" r="1.35"/>
<circle cx="1152.5" cy="663.5" r="1.35"/>
<circle cx="1231.5" cy="850.5" r="1.35"/>
</g></g>
<polyline clip-path="url(#cd)" points="1033.10,914.20 1034.44,908.74 1035.78,903.33 1037.12,897.97 1038.46,892.67 1039.80,887.42 1041.14,882.23 1042.48,877.10 1043.82,872.01 1045.16,866.99 1046.50,862.01 1047.84,857.10 1049.18,852.23 1050.52,847.42 1051.86,842.67 1053.20,837.97 1054.54,833.33 1055.88,828.74 1057.22,824.20 1058.56,819.72 1059.90,815.29 1061.24,810.92 1062.59,806.60 1063.93,802.34 1065.27,798.13 1066.61,793.98 1067.95,789.88 1069.29,785.84 1070.63,781.85 1071.97,777.92 1073.31,774.04 1074.65,770.21 1075.99,766.44 1077.33,762.72 1078.67,759.06 1080.01,755.46 1081.35,751.90 1082.69,748.41 1084.03,744.96 1085.37,741.58 1086.71,738.24 1088.05,734.96 1089.39,731.74 1090.73,728.57 1092.07,725.46 1093.41,722.40 1094.75,719.39 1096.09,716.44 1097.43,713.54 1098.77,710.70 1100.11,707.91 1101.45,705.18 1102.79,702.50 1104.13,699.88 1105.47,697.31 1106.81,694.80 1108.15,692.34 1109.49,689.93 1110.83,687.58 1112.17,685.29 1113.51,683.05 1114.85,680.86 1116.19,678.73 1117.53,676.66 1118.87,674.63 1120.22,672.67 1121.56,670.75 1122.90,668.90 1124.24,667.09 1125.58,665.34 1126.92,663.65 1128.26,662.01 1129.60,660.42 1130.94,658.89 1132.28,657.42 1133.62,656.00 1134.96,654.63 1136.30,653.32 1137.64,652.06 1138.98,650.86 1140.32,649.71 1141.66,648.62 1143.00,647.58 1144.34,646.60 1145.68,645.67 1147.02,644.79 1148.36,643.97 1149.70,643.21 1151.04,642.50 1152.38,641.84 1153.72,641.24 1155.06,640.69 1156.40,640.20 1157.74,639.76 1159.08,639.38 1160.42,639.05 1161.76,638.78 1163.10,638.56 1164.44,638.40 1165.78,638.29 1167.12,638.23 1168.46,638.23 1169.80,638.29 1171.14,638.40 1172.48,638.56 1173.82,638.78 1175.16,639.05 1176.50,639.38 1177.84,639.76 1179.19,640.20 1180.53,640.69 1181.87,641.23 1183.21,641.84 1184.55,642.49 1185.89,643.20 1187.23,643.97 1188.57,644.78 1189.91,645.66 1191.25,646.59 1192.59,647.57 1193.93,648.61 1195.27,649.70 1196.61,650.85 1197.95,652.05 1199.29,653.31 1200.63,654.62 1201.97,655.98 1203.31,657.40 1204.65,658.88 1205.99,660.41 1207.33,661.99 1208.67,663.63 1210.01,665.33 1211.35,667.07 1212.69,668.88 1214.03,670.73 1215.37,672.65 1216.71,674.61 1218.05,676.63 1219.39,678.71 1220.73,680.84 1222.07,683.03 1223.41,685.27 1224.75,687.56 1226.09,689.91 1227.43,692.31 1228.77,694.77 1230.11,697.29 1231.45,699.85 1232.79,702.48 1234.13,705.15 1235.47,707.89 1236.82,710.67 1238.16,713.51 1239.50,716.41 1240.84,719.36 1242.18,722.36 1243.52,725.42 1244.86,728.54 1246.20,731.71 1247.54,734.93 1248.88,738.21 1250.22,741.54 1251.56,744.93 1252.90,748.37 1254.24,751.87 1255.58,755.42 1256.92,759.03 1258.26,762.69 1259.60,766.40 1260.94,770.17 1262.28,774.00 1263.62,777.88 1264.96,781.81 1266.30,785.80 1267.64,789.84 1268.98,793.94 1270.32,798.09 1271.66,802.30 1273.00,806.56 1274.34,810.88 1275.68,815.25 1277.02,819.67 1278.36,824.15 1279.70,828.69 1281.04,833.28 1282.38,837.92 1283.72,842.62 1285.06,847.38 1286.40,852.18 1287.74,857.05 1289.08,861.96 1290.42,866.94 1291.76,871.96 1293.10,877.04 1294.45,882.18 1295.79,887.37 1297.13,892.62 1298.47,897.92 1299.81,903.27" fill="none" stroke="#4A44C8" stroke-opacity="0.85" stroke-width="2.5" stroke-linejoin="round"/>
<line x1="187.60" y1="394.80" x2="187.60" y2="403.00" stroke="#000" stroke-width="1.67"/>
<text x="162.27" y="426.70" font-size="22" textLength="51.05" lengthAdjust="spacingAndGlyphs" >4000</text>
<line x1="281.79" y1="394.80" x2="281.79" y2="403.00" stroke="#000" stroke-width="1.67"/>
<text x="256.46" y="426.70" font-size="22" textLength="51.05" lengthAdjust="spacingAndGlyphs" >4010</text>
<line x1="375.98" y1="394.80" x2="375.98" y2="403.00" stroke="#000" stroke-width="1.67"/>
<text x="350.65" y="426.70" font-size="22" textLength="51.05" lengthAdjust="spacingAndGlyphs" >4020</text>
<line x1="470.17" y1="394.80" x2="470.17" y2="403.00" stroke="#000" stroke-width="1.67"/>
<text x="444.84" y="426.70" font-size="22" textLength="51.05" lengthAdjust="spacingAndGlyphs" >4030</text>
<line x1="564.36" y1="394.80" x2="564.36" y2="403.00" stroke="#000" stroke-width="1.67"/>
<text x="539.03" y="426.70" font-size="22" textLength="51.05" lengthAdjust="spacingAndGlyphs" >4040</text>
<line x1="658.55" y1="394.80" x2="658.55" y2="403.00" stroke="#000" stroke-width="1.67"/>
<text x="633.22" y="426.70" font-size="22" textLength="51.05" lengthAdjust="spacingAndGlyphs" >4050</text>
<line x1="752.74" y1="394.80" x2="752.74" y2="403.00" stroke="#000" stroke-width="1.67"/>
<text x="727.41" y="426.70" font-size="22" textLength="51.05" lengthAdjust="spacingAndGlyphs" >4060</text>
<line x1="846.93" y1="394.80" x2="846.93" y2="403.00" stroke="#000" stroke-width="1.67"/>
<text x="821.60" y="426.70" font-size="22" textLength="51.05" lengthAdjust="spacingAndGlyphs" >4070</text>
<line x1="136.20" y1="351.98" x2="144.40" y2="351.98" stroke="#000" stroke-width="1.67"/>
<text x="96.15" y="358.88" font-size="22" textLength="31.90" lengthAdjust="spacingAndGlyphs" >0.2</text>
<line x1="136.20" y1="272.62" x2="144.40" y2="272.62" stroke="#000" stroke-width="1.67"/>
<text x="95.64" y="279.52" font-size="22" textLength="31.90" lengthAdjust="spacingAndGlyphs" >0.4</text>
<line x1="136.20" y1="193.26" x2="144.40" y2="193.26" stroke="#000" stroke-width="1.67"/>
<text x="95.98" y="200.16" font-size="22" textLength="31.90" lengthAdjust="spacingAndGlyphs" >0.6</text>
<line x1="136.20" y1="113.90" x2="144.40" y2="113.90" stroke="#000" stroke-width="1.67"/>
<text x="95.98" y="120.80" font-size="22" textLength="31.90" lengthAdjust="spacingAndGlyphs" >0.8</text>
<line x1="187.50" y1="931.10" x2="187.50" y2="939.30" stroke="#000" stroke-width="1.67"/>
<text x="162.17" y="961.60" font-size="22" textLength="51.05" lengthAdjust="spacingAndGlyphs" >4000</text>
<line x1="281.69" y1="931.10" x2="281.69" y2="939.30" stroke="#000" stroke-width="1.67"/>
<text x="256.36" y="961.60" font-size="22" textLength="51.05" lengthAdjust="spacingAndGlyphs" >4010</text>
<line x1="375.88" y1="931.10" x2="375.88" y2="939.30" stroke="#000" stroke-width="1.67"/>
<text x="350.55" y="961.60" font-size="22" textLength="51.05" lengthAdjust="spacingAndGlyphs" >4020</text>
<line x1="470.07" y1="931.10" x2="470.07" y2="939.30" stroke="#000" stroke-width="1.67"/>
<text x="444.74" y="961.60" font-size="22" textLength="51.05" lengthAdjust="spacingAndGlyphs" >4030</text>
<line x1="564.26" y1="931.10" x2="564.26" y2="939.30" stroke="#000" stroke-width="1.67"/>
<text x="538.93" y="961.60" font-size="22" textLength="51.05" lengthAdjust="spacingAndGlyphs" >4040</text>
<line x1="658.45" y1="931.10" x2="658.45" y2="939.30" stroke="#000" stroke-width="1.67"/>
<text x="633.12" y="961.60" font-size="22" textLength="51.05" lengthAdjust="spacingAndGlyphs" >4050</text>
<line x1="752.64" y1="931.10" x2="752.64" y2="939.30" stroke="#000" stroke-width="1.67"/>
<text x="727.31" y="961.60" font-size="22" textLength="51.05" lengthAdjust="spacingAndGlyphs" >4060</text>
<line x1="846.83" y1="931.10" x2="846.83" y2="939.30" stroke="#000" stroke-width="1.67"/>
<text x="821.50" y="961.60" font-size="22" textLength="51.05" lengthAdjust="spacingAndGlyphs" >4070</text>
<line x1="136.30" y1="894.10" x2="144.50" y2="894.10" stroke="#000" stroke-width="1.67"/>
<text x="96.25" y="901.00" font-size="22" textLength="31.90" lengthAdjust="spacingAndGlyphs" >0.2</text>
<line x1="136.30" y1="827.70" x2="144.50" y2="827.70" stroke="#000" stroke-width="1.67"/>
<text x="95.74" y="834.60" font-size="22" textLength="31.90" lengthAdjust="spacingAndGlyphs" >0.4</text>
<line x1="136.30" y1="761.30" x2="144.50" y2="761.30" stroke="#000" stroke-width="1.67"/>
<text x="96.08" y="768.20" font-size="22" textLength="31.90" lengthAdjust="spacingAndGlyphs" >0.6</text>
<line x1="136.30" y1="694.90" x2="144.50" y2="694.90" stroke="#000" stroke-width="1.67"/>
<text x="96.08" y="701.80" font-size="22" textLength="31.90" lengthAdjust="spacingAndGlyphs" >0.8</text>
<line x1="136.30" y1="628.50" x2="144.50" y2="628.50" stroke="#000" stroke-width="1.67"/>
<text x="95.97" y="635.40" font-size="22" textLength="31.90" lengthAdjust="spacingAndGlyphs" >1.0</text>
<line x1="1033.00" y1="394.90" x2="1033.00" y2="403.10" stroke="#000" stroke-width="1.67"/>
<text x="1010.66" y="426.80" font-size="22" textLength="44.66" lengthAdjust="spacingAndGlyphs" >0.00</text>
<line x1="1108.30" y1="394.90" x2="1108.30" y2="403.10" stroke="#000" stroke-width="1.67"/>
<text x="1085.99" y="426.80" font-size="22" textLength="44.66" lengthAdjust="spacingAndGlyphs" >0.25</text>
<line x1="1183.60" y1="394.90" x2="1183.60" y2="403.10" stroke="#000" stroke-width="1.67"/>
<text x="1161.26" y="426.80" font-size="22" textLength="44.66" lengthAdjust="spacingAndGlyphs" >0.50</text>
<line x1="1258.90" y1="394.90" x2="1258.90" y2="403.10" stroke="#000" stroke-width="1.67"/>
<text x="1236.59" y="426.80" font-size="22" textLength="44.66" lengthAdjust="spacingAndGlyphs" >0.75</text>
<line x1="1334.20" y1="394.90" x2="1334.20" y2="403.10" stroke="#000" stroke-width="1.67"/>
<text x="1311.45" y="426.80" font-size="22" textLength="44.66" lengthAdjust="spacingAndGlyphs" >1.00</text>
<line x1="1009.70" y1="379.70" x2="1017.90" y2="379.70" stroke="#000" stroke-width="1.67"/>
<text x="969.37" y="386.60" font-size="22" textLength="31.90" lengthAdjust="spacingAndGlyphs" >0.0</text>
<line x1="1009.70" y1="314.54" x2="1017.90" y2="314.54" stroke="#000" stroke-width="1.67"/>
<text x="969.65" y="321.44" font-size="22" textLength="31.90" lengthAdjust="spacingAndGlyphs" >0.2</text>
<line x1="1009.70" y1="249.38" x2="1017.90" y2="249.38" stroke="#000" stroke-width="1.67"/>
<text x="969.14" y="256.28" font-size="22" textLength="31.90" lengthAdjust="spacingAndGlyphs" >0.4</text>
<line x1="1009.70" y1="184.22" x2="1017.90" y2="184.22" stroke="#000" stroke-width="1.67"/>
<text x="969.48" y="191.12" font-size="22" textLength="31.90" lengthAdjust="spacingAndGlyphs" >0.6</text>
<line x1="1009.70" y1="119.06" x2="1017.90" y2="119.06" stroke="#000" stroke-width="1.67"/>
<text x="969.48" y="125.96" font-size="22" textLength="31.90" lengthAdjust="spacingAndGlyphs" >0.8</text>
<line x1="1009.70" y1="53.90" x2="1017.90" y2="53.90" stroke="#000" stroke-width="1.67"/>
<text x="969.37" y="60.80" font-size="22" textLength="31.90" lengthAdjust="spacingAndGlyphs" >1.0</text>
<line x1="1033.10" y1="931.00" x2="1033.10" y2="939.20" stroke="#000" stroke-width="1.67"/>
<text x="1010.76" y="961.50" font-size="22" textLength="44.66" lengthAdjust="spacingAndGlyphs" >0.00</text>
<line x1="1100.45" y1="931.00" x2="1100.45" y2="939.20" stroke="#000" stroke-width="1.67"/>
<text x="1078.14" y="961.50" font-size="22" textLength="44.66" lengthAdjust="spacingAndGlyphs" >0.25</text>
<line x1="1167.80" y1="931.00" x2="1167.80" y2="939.20" stroke="#000" stroke-width="1.67"/>
<text x="1145.46" y="961.50" font-size="22" textLength="44.66" lengthAdjust="spacingAndGlyphs" >0.50</text>
<line x1="1235.15" y1="931.00" x2="1235.15" y2="939.20" stroke="#000" stroke-width="1.67"/>
<text x="1212.84" y="961.50" font-size="22" textLength="44.66" lengthAdjust="spacingAndGlyphs" >0.75</text>
<line x1="1302.50" y1="931.00" x2="1302.50" y2="939.20" stroke="#000" stroke-width="1.67"/>
<text x="1279.75" y="961.50" font-size="22" textLength="44.66" lengthAdjust="spacingAndGlyphs" >1.00</text>
<line x1="1009.90" y1="914.20" x2="1018.10" y2="914.20" stroke="#000" stroke-width="1.67"/>
<text x="969.57" y="922.40" font-size="22" textLength="31.90" lengthAdjust="spacingAndGlyphs" >0.0</text>
<line x1="1009.90" y1="856.10" x2="1018.10" y2="856.10" stroke="#000" stroke-width="1.67"/>
<text x="969.85" y="864.30" font-size="22" textLength="31.90" lengthAdjust="spacingAndGlyphs" >0.2</text>
<line x1="1009.90" y1="798.00" x2="1018.10" y2="798.00" stroke="#000" stroke-width="1.67"/>
<text x="969.34" y="806.20" font-size="22" textLength="31.90" lengthAdjust="spacingAndGlyphs" >0.4</text>
<line x1="1009.90" y1="739.90" x2="1018.10" y2="739.90" stroke="#000" stroke-width="1.67"/>
<text x="969.68" y="748.10" font-size="22" textLength="31.90" lengthAdjust="spacingAndGlyphs" >0.6</text>
<line x1="1009.90" y1="681.80" x2="1018.10" y2="681.80" stroke="#000" stroke-width="1.67"/>
<text x="969.68" y="690.00" font-size="22" textLength="31.90" lengthAdjust="spacingAndGlyphs" >0.8</text>
<line x1="1009.90" y1="623.70" x2="1018.10" y2="623.70" stroke="#000" stroke-width="1.67"/>
<text x="969.57" y="631.90" font-size="22" textLength="31.90" lengthAdjust="spacingAndGlyphs" >1.0</text>
<rect x="155.6" y="313.7" width="215.6" height="70.5" rx="3" ry="3" fill="#fff" fill-opacity="0.8" stroke="#c6c6c6" stroke-width="1.4"/>
<line x1="160.7" y1="331.2" x2="206.8" y2="331.2" stroke="#3949AB" stroke-width="3.1"/>
<line x1="160.7" y1="363.8" x2="206.8" y2="363.8" stroke="#E53935" stroke-width="3.1"/>
<text x="221.75" y="338.80" font-size="22" textLength="140.02" lengthAdjust="spacingAndGlyphs" >Ground truth</text>
<text x="220.99" y="371.40" font-size="22" textLength="108.13" lengthAdjust="spacingAndGlyphs" >Prediction</text>
<rect x="155.6" y="849.6" width="215.4" height="70.5" rx="3" ry="3" fill="#fff" fill-opacity="0.8" stroke="#c6c6c6" stroke-width="1.4"/>
<line x1="160.7" y1="865.6" x2="206.8" y2="865.6" stroke="#3949AB" stroke-width="3.1"/>
<line x1="160.7" y1="898.2" x2="206.8" y2="898.2" stroke="#E53935" stroke-width="3.1"/>
<text x="221.96" y="873.00" font-size="22" textLength="139.71" lengthAdjust="spacingAndGlyphs" >Ground truth</text>
<text x="221.20" y="905.40" font-size="22" textLength="107.72" lengthAdjust="spacingAndGlyphs" >Prediction</text>
<rect x="1028.8" y="313.9" width="303.0" height="70.2" rx="3" ry="3" fill="#fff" fill-opacity="0.8" stroke="#c6c6c6" stroke-width="1.4"/>
<line x1="1034.3" y1="331.0" x2="1080.6" y2="331.0" stroke="#4A44C8" stroke-width="2.5" stroke-opacity="0.85"/>
<circle cx="1057.4" cy="365.2" r="1.35" fill="#E53935" fill-opacity="0.9"/>
<text x="1097.45" y="338.40" font-size="22" textLength="223.55" lengthAdjust="spacingAndGlyphs" >Trace of logistic map</text>
<text x="1096.00" y="370.80" font-size="22" textLength="108.03" lengthAdjust="spacingAndGlyphs" >Prediction</text>
<rect x="1029.0" y="849.6" width="302.6" height="70.5" rx="3" ry="3" fill="#fff" fill-opacity="0.8" stroke="#c6c6c6" stroke-width="1.4"/>
<line x1="1034.3" y1="865.2" x2="1080.6" y2="865.2" stroke="#4A44C8" stroke-width="2.5" stroke-opacity="0.85"/>
<circle cx="1057.4" cy="901.7" r="1.35" fill="#E53935" fill-opacity="0.9"/>
<text x="1097.35" y="872.90" font-size="22" textLength="223.65" lengthAdjust="spacingAndGlyphs" >Trace of logistic map</text>
<text x="1095.90" y="905.20" font-size="22" textLength="108.03" lengthAdjust="spacingAndGlyphs" >Prediction</text>
<rect x="144.40" y="40.00" width="765.40" height="354.80" fill="none" stroke="#000" stroke-width="1.67" stroke-linejoin="miter"/>
<rect x="1017.90" y="40.00" width="329.00" height="354.90" fill="none" stroke="#000" stroke-width="1.67" stroke-linejoin="miter"/>
<rect x="144.50" y="574.70" width="765.30" height="356.40" fill="none" stroke="#000" stroke-width="1.67" stroke-linejoin="miter"/>
<rect x="1018.10" y="574.70" width="328.80" height="356.30" fill="none" stroke="#000" stroke-width="1.67" stroke-linejoin="miter"/>
<text transform="translate(28.70,290.06) rotate(-90)" font-size="22" textLength="144.20" lengthAdjust="spacingAndGlyphs" >Actual device</text>
<text transform="translate(28.60,841.23) rotate(-90)" font-size="22" textLength="175.91" lengthAdjust="spacingAndGlyphs" >Circuit simulator</text>
<text transform="translate(79.80,266.54) rotate(-90)" font-size="22" textLength="97.01" lengthAdjust="spacingAndGlyphs" >Outcome</text>
<text transform="translate(80.20,801.42) rotate(-90)" font-size="22" textLength="96.08" lengthAdjust="spacingAndGlyphs" >Outcome</text>
<text transform="translate(954.00,308.70) rotate(-90) scale(1.1436,1)" font-size="22">Outcome at <tspan font-style="italic">τ</tspan> +1</text>
<text transform="translate(954.00,842.40) rotate(-90) scale(1.1436,1)" font-size="22">Outcome at <tspan font-style="italic">τ</tspan> +1</text>
<text transform="translate(1108.83,457.50) scale(1.1214,1)" font-size="22">Outcome at <tspan font-style="italic">τ</tspan></text>
<text transform="translate(1108.43,991.80) scale(1.1207,1)" font-size="22">Outcome at <tspan font-style="italic">τ</tspan></text>
<text x="520.68" y="457.50" font-size="22" font-style="italic" textLength="11.20" lengthAdjust="spacingAndGlyphs" >τ</text>
<text x="520.79" y="992.00" font-size="22" font-style="italic" textLength="11.10" lengthAdjust="spacingAndGlyphs" >τ</text>
<text x="228.37" y="24.60" font-size="30" textLength="572.12" lengthAdjust="spacingAndGlyphs" >Experimental results of hardware prototype</text>
<text x="260.25" y="556.80" font-size="30" textLength="537.06" lengthAdjust="spacingAndGlyphs" >Simulation results of hardware prototype</text>
<text x="95.91" y="48.40" font-size="44.5">a</text>
<text x="936.24" y="49.10" font-size="44.5">b</text>
<text x="98.94" y="582.20" font-size="44.5">c</text>
<text x="944.05" y="593.40" font-size="44.5">d</text>
</svg>
</body></html>
